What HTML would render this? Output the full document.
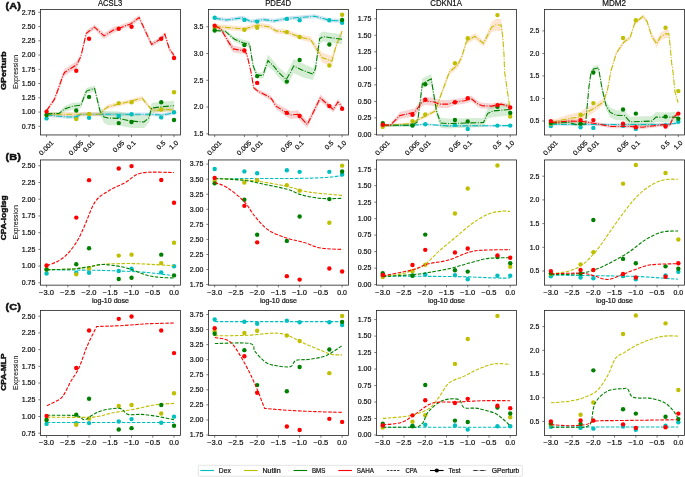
<!DOCTYPE html>
<html><head><meta charset="utf-8"><title>Figure</title>
<style>
html,body{margin:0;padding:0;background:#fff;}
body{width:685px;height:477px;overflow:hidden;}
svg{display:block;will-change:transform;font-family:"Liberation Sans",sans-serif;fill:#000;}
svg text{fill:#111;stroke:#111;stroke-width:0.2px;}
svg text[font-weight=bold]{stroke-width:0.45px;}
svg text.yl{stroke-width:0.08px;}
</style></head>
<body>
<svg width="685" height="477" viewBox="0 0 685 477">
<rect width="685" height="477" fill="#fff"/>
<g>
<clipPath id="cp00"><rect x="40.5" y="9.5" width="140" height="125.45"/></clipPath>
<g clip-path="url(#cp00)">
<polygon points="46.4,113.2 60,114.5 67.3,115.2 76.2,115.2 81,112.5 150,112.5 161.1,113.2 172.7,111.5 174.1,111.4 174.1,115 172.7,115.1 161.1,116.8 150,116.1 81,116.1 76.2,118.8 67.3,118.8 60,118.1 46.4,116.8" fill="#1f77b4" fill-opacity="0.2"/>
<polygon points="46.4,112.1 100,112.1 104.1,107.4 108,104.6 118.6,101.9 131.4,98.9 142.1,96 150.2,105.9 153,108 161.1,108 166.6,107.3 174.1,108 174.1,112.4 166.6,111.7 161.1,112.4 153,112.4 150.2,110.3 142.1,100.4 131.4,103.3 118.6,106.3 108,109 104.1,111.8 100,116.5 46.4,116.5" fill="#ff7f0e" fill-opacity="0.2"/>
<polygon points="46.4,112.4 59.1,111.9 64.6,105.9 72.7,102.7 80.9,102.2 86.4,88.1 94.6,85.4 100,107 104.1,111.1 108,111 118.6,111.4 131.4,114.1 144.1,116 148.9,112.7 151.6,103.1 161.1,101.8 174.1,100.7 174.1,110.7 161.1,111.8 151.6,113.1 148.9,122.7 144.1,128 131.4,128.1 118.6,125.4 108,125 104.1,123.1 100,115 94.6,91.4 86.4,94.1 80.9,108.2 72.7,109.7 64.6,111.9 59.1,114.9 46.4,115.4" fill="#2ca02c" fill-opacity="0.2"/>
<polygon points="46.4,108.9 54.4,96.9 57.7,87.5 62.5,73.3 64.5,69 76.8,61 80.9,53.4 86.3,30.7 94.5,24.6 104,32.9 114,26.8 118.6,25.9 124.3,23.6 130.5,21.6 139.1,15 151.6,42 161.1,36.2 164.9,31.7 169.3,46.4 174.1,53 174.1,58 169.3,51.4 164.9,36.7 161.1,41.2 151.6,47 139.1,20 130.5,26.6 124.3,28.6 118.6,30.9 114,32.8 104,38.9 94.5,29.6 86.3,35.7 80.9,59.4 76.8,68 64.5,76 62.5,80.3 57.7,93.5 54.4,101.9 46.4,112.9" fill="#d62728" fill-opacity="0.2"/>
<polyline points="46.4,115 60,116.3 67.3,117 76.2,117 81,114.3 150,114.3 161.1,115 172.7,113.3 174.1,113.2" fill="none" stroke="#00bfbf" stroke-width="1.1" stroke-dasharray="6 1.5 0.95 1.5"/>
<circle cx="46.57" cy="118.4" r="2.2" fill="#00bfbf"/>
<circle cx="76.27" cy="117.7" r="2.2" fill="#00bfbf"/>
<circle cx="89.06" cy="117.7" r="2.2" fill="#00bfbf"/>
<circle cx="118.75" cy="116.3" r="2.2" fill="#00bfbf"/>
<circle cx="131.54" cy="114.3" r="2.2" fill="#00bfbf"/>
<circle cx="161.24" cy="117.4" r="2.2" fill="#00bfbf"/>
<circle cx="174.03" cy="112.2" r="2.2" fill="#00bfbf"/>
<polyline points="46.4,114.3 100,114.3 104.1,109.6 108,106.8 118.6,104.1 131.4,101.1 142.1,98.2 150.2,108.1 153,110.2 161.1,110.2 166.6,109.5 174.1,110.2" fill="none" stroke="#bfbf00" stroke-width="1.1" stroke-dasharray="6 1.5 0.95 1.5"/>
<circle cx="46.57" cy="114.8" r="2.2" fill="#bfbf00"/>
<circle cx="76.27" cy="119.1" r="2.2" fill="#bfbf00"/>
<circle cx="89.06" cy="113.9" r="2.2" fill="#bfbf00"/>
<circle cx="118.75" cy="103.1" r="2.2" fill="#bfbf00"/>
<circle cx="131.54" cy="102.3" r="2.2" fill="#bfbf00"/>
<circle cx="161.24" cy="109.5" r="2.2" fill="#bfbf00"/>
<circle cx="174.03" cy="92.2" r="2.2" fill="#bfbf00"/>
<polyline points="46.4,113.9 59.1,113.4 64.6,108.9 72.7,106.2 80.9,105.2 86.4,91.1 94.6,88.4 100,111 104.1,117.1 108,118 118.6,118.4 131.4,121.1 144.1,122 148.9,117.7 151.6,108.1 161.1,106.8 174.1,105.7" fill="none" stroke="#008000" stroke-width="1.1" stroke-dasharray="6 1.5 0.95 1.5"/>
<circle cx="46.57" cy="115" r="2.2" fill="#008000"/>
<circle cx="76.27" cy="110.5" r="2.2" fill="#008000"/>
<circle cx="89.06" cy="96.9" r="2.2" fill="#008000"/>
<circle cx="118.75" cy="123.1" r="2.2" fill="#008000"/>
<circle cx="131.54" cy="122" r="2.2" fill="#008000"/>
<circle cx="161.24" cy="102.3" r="2.2" fill="#008000"/>
<circle cx="174.03" cy="120" r="2.2" fill="#008000"/>
<polyline points="46.4,110.9 54.4,99.4 57.7,90.5 62.5,76.8 64.5,72.5 76.8,64.5 80.9,56.4 86.3,33.2 94.5,27.1 104,35.9 114,29.8 118.6,28.4 124.3,26.1 130.5,24.1 139.1,17.5 151.6,44.5 161.1,38.7 164.9,34.2 169.3,48.9 174.1,55.5" fill="none" stroke="#ff0000" stroke-width="1.1" stroke-dasharray="6 1.5 0.95 1.5"/>
<circle cx="46.57" cy="111.6" r="2.2" fill="#ff0000"/>
<circle cx="76.27" cy="70.7" r="2.2" fill="#ff0000"/>
<circle cx="89.06" cy="38.8" r="2.2" fill="#ff0000"/>
<circle cx="118.75" cy="28.8" r="2.2" fill="#ff0000"/>
<circle cx="131.54" cy="26.8" r="2.2" fill="#ff0000"/>
<circle cx="161.24" cy="38.7" r="2.2" fill="#ff0000"/>
<circle cx="174.03" cy="58" r="2.2" fill="#ff0000"/>
</g>
<rect x="40.5" y="9.5" width="140" height="125.45" fill="none" stroke="#262626" stroke-width="0.82"/>
<line x1="38.3" y1="126.3" x2="40.5" y2="126.3" stroke="#333" stroke-width="0.65"/>
<text x="35.4" y="128.65" font-size="6.5" text-anchor="end" textLength="13.62" lengthAdjust="spacingAndGlyphs">0.75</text>
<line x1="38.3" y1="112.05" x2="40.5" y2="112.05" stroke="#333" stroke-width="0.65"/>
<text x="35.4" y="114.4" font-size="6.5" text-anchor="end" textLength="13.62" lengthAdjust="spacingAndGlyphs">1.00</text>
<line x1="38.3" y1="97.8" x2="40.5" y2="97.8" stroke="#333" stroke-width="0.65"/>
<text x="35.4" y="100.15" font-size="6.5" text-anchor="end" textLength="13.62" lengthAdjust="spacingAndGlyphs">1.25</text>
<line x1="38.3" y1="83.55" x2="40.5" y2="83.55" stroke="#333" stroke-width="0.65"/>
<text x="35.4" y="85.9" font-size="6.5" text-anchor="end" textLength="13.62" lengthAdjust="spacingAndGlyphs">1.50</text>
<line x1="38.3" y1="69.3" x2="40.5" y2="69.3" stroke="#333" stroke-width="0.65"/>
<text x="35.4" y="71.65" font-size="6.5" text-anchor="end" textLength="13.62" lengthAdjust="spacingAndGlyphs">1.75</text>
<line x1="38.3" y1="55.05" x2="40.5" y2="55.05" stroke="#333" stroke-width="0.65"/>
<text x="35.4" y="57.4" font-size="6.5" text-anchor="end" textLength="13.62" lengthAdjust="spacingAndGlyphs">2.00</text>
<line x1="38.3" y1="40.8" x2="40.5" y2="40.8" stroke="#333" stroke-width="0.65"/>
<text x="35.4" y="43.15" font-size="6.5" text-anchor="end" textLength="13.62" lengthAdjust="spacingAndGlyphs">2.25</text>
<line x1="38.3" y1="26.55" x2="40.5" y2="26.55" stroke="#333" stroke-width="0.65"/>
<text x="35.4" y="28.9" font-size="6.5" text-anchor="end" textLength="13.62" lengthAdjust="spacingAndGlyphs">2.50</text>
<line x1="38.3" y1="12.3" x2="40.5" y2="12.3" stroke="#333" stroke-width="0.65"/>
<text x="35.4" y="14.65" font-size="6.5" text-anchor="end" textLength="13.62" lengthAdjust="spacingAndGlyphs">2.75</text>
<line x1="46.57" y1="134.95" x2="46.57" y2="137.15" stroke="#333" stroke-width="0.65"/>
<text x="46.17" y="150.12" font-size="6.5" text-anchor="middle" textLength="17.59" lengthAdjust="spacingAndGlyphs" transform="rotate(-45 46.17 147.82)">0.001</text>
<line x1="76.27" y1="134.95" x2="76.27" y2="137.15" stroke="#333" stroke-width="0.65"/>
<text x="75.87" y="150.12" font-size="6.5" text-anchor="middle" textLength="17.59" lengthAdjust="spacingAndGlyphs" transform="rotate(-45 75.87 147.82)">0.005</text>
<line x1="89.06" y1="134.95" x2="89.06" y2="137.15" stroke="#333" stroke-width="0.65"/>
<text x="88.66" y="148.71" font-size="6.5" text-anchor="middle" textLength="13.62" lengthAdjust="spacingAndGlyphs" transform="rotate(-45 88.66 146.41)">0.01</text>
<line x1="118.75" y1="134.95" x2="118.75" y2="137.15" stroke="#333" stroke-width="0.65"/>
<text x="118.35" y="148.71" font-size="6.5" text-anchor="middle" textLength="13.62" lengthAdjust="spacingAndGlyphs" transform="rotate(-45 118.35 146.41)">0.05</text>
<line x1="131.54" y1="134.95" x2="131.54" y2="137.15" stroke="#333" stroke-width="0.65"/>
<text x="131.14" y="147.3" font-size="6.5" text-anchor="middle" textLength="9.64" lengthAdjust="spacingAndGlyphs" transform="rotate(-45 131.14 145)">0.1</text>
<line x1="161.24" y1="134.95" x2="161.24" y2="137.15" stroke="#333" stroke-width="0.65"/>
<text x="160.84" y="147.3" font-size="6.5" text-anchor="middle" textLength="9.64" lengthAdjust="spacingAndGlyphs" transform="rotate(-45 160.84 145)">0.5</text>
<line x1="174.03" y1="134.95" x2="174.03" y2="137.15" stroke="#333" stroke-width="0.65"/>
<text x="173.63" y="147.3" font-size="6.5" text-anchor="middle" textLength="9.64" lengthAdjust="spacingAndGlyphs" transform="rotate(-45 173.63 145)">1.0</text>
<text x="110.1" y="6.1" font-size="8.5" text-anchor="middle" textLength="24.15" lengthAdjust="spacingAndGlyphs">ACSL3</text>
</g>
<g>
<clipPath id="cp01"><rect x="208.5" y="9.5" width="140" height="125.45"/></clipPath>
<g clip-path="url(#cp01)">
<polygon points="214.9,16.2 226.4,18 242.8,15.8 251,19.6 263.2,17.6 274.1,18.9 286.8,16.6 299.6,15.5 314.8,14.2 329.3,18.3 342.1,18.9 342.1,22.9 329.3,22.3 314.8,18.2 299.6,19.5 286.8,20.6 274.1,22.9 263.2,21.6 251,23.6 242.8,19.8 226.4,22 214.9,20.2" fill="#1f77b4" fill-opacity="0.2"/>
<polygon points="214.9,23.9 244.6,26.6 257.8,22.5 270,24.6 276,28.4 286.8,29.6 299.6,34.5 310.7,36.6 316.9,45.6 322.3,52.7 331.9,56.1 336,43.1 342.1,28.7 342.1,33.7 336,49.1 331.9,66.1 322.3,62.7 316.9,53.6 310.7,42.6 299.6,39.5 286.8,34.6 276,33.4 270,29.6 257.8,27.5 244.6,31.6 214.9,28.9" fill="#ff7f0e" fill-opacity="0.2"/>
<polygon points="214.9,29 225.1,29.7 234.6,36.8 242.8,39.7 249.6,41.1 253,62.2 255,67.7 257.1,72.4 263.2,72.4 264.6,66 268,54.5 274.1,61.6 278.2,67 286.2,73.5 291,64.4 293.7,58.9 301.9,63 312.8,68.1 315.5,63.6 319.6,33.7 323,31.6 330.5,32.7 342.1,34.3 342.1,44.3 330.5,42.7 323,41.6 319.6,43.7 315.5,73.6 312.8,80.1 301.9,77 293.7,72.9 291,78.4 286.2,85.5 278.2,77 274.1,71.6 268,66.5 264.6,74 263.2,78.4 257.1,78.4 255,73.7 253,68.2 249.6,47.1 242.8,45.7 234.6,41.8 225.1,32.7 214.9,32" fill="#2ca02c" fill-opacity="0.2"/>
<polygon points="214.9,24.2 221,27.1 228.5,38.6 233.2,45.4 244.6,47.9 246.9,51.8 251,70 253.7,85.7 257.8,89.1 266,92.7 271.4,96.1 276,103.1 286.8,108.9 291,111 297.8,110.3 307.3,121 320.3,94.4 329.3,103.1 333.2,106.5 338,99 342.1,104 342.1,110 338,105 333.2,112.5 329.3,109.1 320.3,101.4 307.3,128 297.8,118.3 291,119 286.8,116.9 276,109.1 271.4,101.1 266,97.7 257.8,93.1 253.7,89.7 251,74 246.9,56.8 244.6,53.9 233.2,52.4 228.5,45.6 221,31.1 214.9,27.2" fill="#d62728" fill-opacity="0.2"/>
<polyline points="214.9,18.2 226.4,20 242.8,17.8 251,21.6 263.2,19.6 274.1,20.9 286.8,18.6 299.6,17.5 314.8,16.2 329.3,20.3 342.1,20.9" fill="none" stroke="#00bfbf" stroke-width="1.1" stroke-dasharray="6 1.5 0.95 1.5"/>
<circle cx="214.67" cy="17.8" r="2.2" fill="#00bfbf"/>
<circle cx="244.37" cy="19.9" r="2.2" fill="#00bfbf"/>
<circle cx="257.16" cy="21.6" r="2.2" fill="#00bfbf"/>
<circle cx="286.85" cy="18.9" r="2.2" fill="#00bfbf"/>
<circle cx="299.64" cy="20.3" r="2.2" fill="#00bfbf"/>
<circle cx="329.34" cy="20.3" r="2.2" fill="#00bfbf"/>
<circle cx="342.13" cy="22.7" r="2.2" fill="#00bfbf"/>
<polyline points="214.9,26.4 244.6,29.1 257.8,25 270,27.1 276,30.9 286.8,32.1 299.6,37 310.7,39.6 316.9,49.6 322.3,57.7 331.9,61.1 336,46.1 342.1,31.2" fill="none" stroke="#bfbf00" stroke-width="1.1" stroke-dasharray="6 1.5 0.95 1.5"/>
<circle cx="214.67" cy="28.4" r="2.2" fill="#bfbf00"/>
<circle cx="244.37" cy="29.8" r="2.2" fill="#bfbf00"/>
<circle cx="257.16" cy="27.8" r="2.2" fill="#bfbf00"/>
<circle cx="286.85" cy="32.1" r="2.2" fill="#bfbf00"/>
<circle cx="299.64" cy="37" r="2.2" fill="#bfbf00"/>
<circle cx="329.34" cy="65.5" r="2.2" fill="#bfbf00"/>
<circle cx="342.13" cy="14.8" r="2.2" fill="#bfbf00"/>
<polyline points="214.9,30.5 225.1,31.2 234.6,39.3 242.8,42.7 249.6,44.1 253,65.2 255,70.7 257.1,75.4 263.2,75.4 264.6,70 268,60.5 274.1,66.6 278.2,72 286.2,79.5 291,71.4 293.7,65.9 301.9,70 312.8,74.1 315.5,68.6 319.6,38.7 323,36.6 330.5,37.7 342.1,39.3" fill="none" stroke="#008000" stroke-width="1.1" stroke-dasharray="6 1.5 0.95 1.5"/>
<circle cx="214.67" cy="30.5" r="2.2" fill="#008000"/>
<circle cx="244.37" cy="45.1" r="2.2" fill="#008000"/>
<circle cx="257.16" cy="76.1" r="2.2" fill="#008000"/>
<circle cx="286.85" cy="81.6" r="2.2" fill="#008000"/>
<circle cx="299.64" cy="60" r="2.2" fill="#008000"/>
<circle cx="329.34" cy="44.5" r="2.2" fill="#008000"/>
<circle cx="342.13" cy="20" r="2.2" fill="#008000"/>
<polyline points="214.9,25.7 221,29.1 228.5,42.1 233.2,48.9 244.6,50.9 246.9,54.3 251,72 253.7,87.7 257.8,91.1 266,95.2 271.4,98.6 276,106.1 286.8,112.9 291,115 297.8,114.3 307.3,124.5 320.3,97.9 329.3,106.1 333.2,109.5 338,102 342.1,107" fill="none" stroke="#ff0000" stroke-width="1.1" stroke-dasharray="6 1.5 0.95 1.5"/>
<circle cx="214.67" cy="25.7" r="2.2" fill="#ff0000"/>
<circle cx="244.37" cy="50.5" r="2.2" fill="#ff0000"/>
<circle cx="257.16" cy="82.9" r="2.2" fill="#ff0000"/>
<circle cx="286.85" cy="112.9" r="2.2" fill="#ff0000"/>
<circle cx="299.64" cy="116" r="2.2" fill="#ff0000"/>
<circle cx="329.34" cy="106.1" r="2.2" fill="#ff0000"/>
<circle cx="342.13" cy="108.8" r="2.2" fill="#ff0000"/>
</g>
<rect x="208.5" y="9.5" width="140" height="125.45" fill="none" stroke="#262626" stroke-width="0.82"/>
<line x1="206.3" y1="133.8" x2="208.5" y2="133.8" stroke="#333" stroke-width="0.65"/>
<text x="203.4" y="136.15" font-size="6.5" text-anchor="end" textLength="9.64" lengthAdjust="spacingAndGlyphs">1.5</text>
<line x1="206.3" y1="107.05" x2="208.5" y2="107.05" stroke="#333" stroke-width="0.65"/>
<text x="203.4" y="109.4" font-size="6.5" text-anchor="end" textLength="9.64" lengthAdjust="spacingAndGlyphs">2.0</text>
<line x1="206.3" y1="80.3" x2="208.5" y2="80.3" stroke="#333" stroke-width="0.65"/>
<text x="203.4" y="82.65" font-size="6.5" text-anchor="end" textLength="9.64" lengthAdjust="spacingAndGlyphs">2.5</text>
<line x1="206.3" y1="53.55" x2="208.5" y2="53.55" stroke="#333" stroke-width="0.65"/>
<text x="203.4" y="55.9" font-size="6.5" text-anchor="end" textLength="9.64" lengthAdjust="spacingAndGlyphs">3.0</text>
<line x1="206.3" y1="26.8" x2="208.5" y2="26.8" stroke="#333" stroke-width="0.65"/>
<text x="203.4" y="29.15" font-size="6.5" text-anchor="end" textLength="9.64" lengthAdjust="spacingAndGlyphs">3.5</text>
<line x1="214.67" y1="134.95" x2="214.67" y2="137.15" stroke="#333" stroke-width="0.65"/>
<text x="214.27" y="150.12" font-size="6.5" text-anchor="middle" textLength="17.59" lengthAdjust="spacingAndGlyphs" transform="rotate(-45 214.27 147.82)">0.001</text>
<line x1="244.37" y1="134.95" x2="244.37" y2="137.15" stroke="#333" stroke-width="0.65"/>
<text x="243.97" y="150.12" font-size="6.5" text-anchor="middle" textLength="17.59" lengthAdjust="spacingAndGlyphs" transform="rotate(-45 243.97 147.82)">0.005</text>
<line x1="257.16" y1="134.95" x2="257.16" y2="137.15" stroke="#333" stroke-width="0.65"/>
<text x="256.76" y="148.71" font-size="6.5" text-anchor="middle" textLength="13.62" lengthAdjust="spacingAndGlyphs" transform="rotate(-45 256.76 146.41)">0.01</text>
<line x1="286.85" y1="134.95" x2="286.85" y2="137.15" stroke="#333" stroke-width="0.65"/>
<text x="286.45" y="148.71" font-size="6.5" text-anchor="middle" textLength="13.62" lengthAdjust="spacingAndGlyphs" transform="rotate(-45 286.45 146.41)">0.05</text>
<line x1="299.64" y1="134.95" x2="299.64" y2="137.15" stroke="#333" stroke-width="0.65"/>
<text x="299.24" y="147.3" font-size="6.5" text-anchor="middle" textLength="9.64" lengthAdjust="spacingAndGlyphs" transform="rotate(-45 299.24 145)">0.1</text>
<line x1="329.34" y1="134.95" x2="329.34" y2="137.15" stroke="#333" stroke-width="0.65"/>
<text x="328.94" y="147.3" font-size="6.5" text-anchor="middle" textLength="9.64" lengthAdjust="spacingAndGlyphs" transform="rotate(-45 328.94 145)">0.5</text>
<line x1="342.13" y1="134.95" x2="342.13" y2="137.15" stroke="#333" stroke-width="0.65"/>
<text x="341.73" y="147.3" font-size="6.5" text-anchor="middle" textLength="9.64" lengthAdjust="spacingAndGlyphs" transform="rotate(-45 341.73 145)">1.0</text>
<text x="278.1" y="6.1" font-size="8.5" text-anchor="middle" textLength="25.78" lengthAdjust="spacingAndGlyphs">PDE4D</text>
</g>
<g>
<clipPath id="cp02"><rect x="376.5" y="9.5" width="140" height="125.45"/></clipPath>
<g clip-path="url(#cp02)">
<polygon points="382.9,124.6 412.6,124.2 425.1,123.2 448,124.9 510.1,124.6 510.1,126.6 448,126.9 425.1,125.2 412.6,126.2 382.9,126.6" fill="#1f77b4" fill-opacity="0.2"/>
<polygon points="382.9,124.9 412.6,121.9 417.6,118.2 425.1,114.3 435.3,108.9 440.1,94.7 449.4,69 457.6,62.2 461.7,54 466.5,38.4 474.7,33.3 483.5,40.4 491.7,22.1 495.8,19 501.2,19 502.6,30.2 504,52.3 504.6,70.5 510.1,108 510.1,111 504.6,73.5 504,56.3 502.6,40.2 501.2,31 495.8,31 491.7,32.1 483.5,46.4 474.7,39.3 466.5,44.4 461.7,60 457.6,68.2 449.4,75 440.1,99.7 435.3,112.9 425.1,118.3 417.6,121.2 412.6,124.9 382.9,126.9" fill="#ff7f0e" fill-opacity="0.2"/>
<polygon points="382.9,123.7 412.6,123.7 417.6,119.3 422.4,78.6 431.2,73.9 436.7,108.2 440.8,118.1 448,118.6 483.5,118 487.6,108.6 493,104.9 510.1,103.5 510.1,115.5 493,116.9 487.6,118.6 483.5,127 448,128.6 440.8,128.1 436.7,116.2 431.2,83.9 422.4,88.6 417.6,124.3 412.6,126.7 382.9,126.7" fill="#2ca02c" fill-opacity="0.2"/>
<polygon points="382.9,123.8 390.3,123.7 399.9,112.1 414.9,108.2 421,99.4 425.1,96.7 433.9,98 439.4,100.1 448,100.1 454.9,99 464.4,97.7 471.2,95.6 478.1,101.1 482.1,102.7 491.7,103.6 501.2,102.1 510.1,104.5 510.1,108.5 501.2,106.1 491.7,108.6 482.1,108.7 478.1,107.1 471.2,101.6 464.4,103.7 454.9,105 448,108.1 439.4,108.1 433.9,106 425.1,104.7 421,107.4 414.9,116.2 399.9,119.1 390.3,126.7 382.9,125.8" fill="#d62728" fill-opacity="0.2"/>
<polyline points="382.9,125.6 412.6,125.2 425.1,124.2 448,125.9 510.1,125.6" fill="none" stroke="#00bfbf" stroke-width="1.1" stroke-dasharray="6 1.5 0.95 1.5"/>
<circle cx="382.77" cy="125.2" r="2.2" fill="#00bfbf"/>
<circle cx="412.47" cy="125.2" r="2.2" fill="#00bfbf"/>
<circle cx="425.26" cy="124.2" r="2.2" fill="#00bfbf"/>
<circle cx="454.95" cy="124.9" r="2.2" fill="#00bfbf"/>
<circle cx="467.74" cy="129" r="2.2" fill="#00bfbf"/>
<circle cx="497.44" cy="125.6" r="2.2" fill="#00bfbf"/>
<circle cx="510.23" cy="125.6" r="2.2" fill="#00bfbf"/>
<polyline points="382.9,125.9 412.6,123.4 417.6,119.7 425.1,116.3 435.3,110.9 440.1,97.2 449.4,72 457.6,65.2 461.7,57 466.5,41.4 474.7,36.3 483.5,43.4 491.7,27.1 495.8,25 501.2,25 502.6,35.2 504,54.3 504.6,72 510.1,109.5" fill="none" stroke="#bfbf00" stroke-width="1.1" stroke-dasharray="6 1.5 0.95 1.5"/>
<circle cx="382.77" cy="126.9" r="2.2" fill="#bfbf00"/>
<circle cx="412.47" cy="121.1" r="2.2" fill="#bfbf00"/>
<circle cx="425.26" cy="114.5" r="2.2" fill="#bfbf00"/>
<circle cx="454.95" cy="63.2" r="2.2" fill="#bfbf00"/>
<circle cx="467.74" cy="38.2" r="2.2" fill="#bfbf00"/>
<circle cx="497.44" cy="15.1" r="2.2" fill="#bfbf00"/>
<circle cx="510.23" cy="116.6" r="2.2" fill="#bfbf00"/>
<polyline points="382.9,125.2 412.6,125.2 417.6,121.8 422.4,83.6 431.2,78.9 436.7,112.2 440.8,123.1 448,123.6 483.5,122.5 487.6,113.6 493,110.9 510.1,109.5" fill="none" stroke="#008000" stroke-width="1.1" stroke-dasharray="6 1.5 0.95 1.5"/>
<circle cx="382.77" cy="123.1" r="2.2" fill="#008000"/>
<circle cx="412.47" cy="125.6" r="2.2" fill="#008000"/>
<circle cx="425.26" cy="84.3" r="2.2" fill="#008000"/>
<circle cx="454.95" cy="120" r="2.2" fill="#008000"/>
<circle cx="467.74" cy="121.4" r="2.2" fill="#008000"/>
<circle cx="497.44" cy="106.8" r="2.2" fill="#008000"/>
<circle cx="510.23" cy="112.9" r="2.2" fill="#008000"/>
<polyline points="382.9,124.8 390.3,125.2 399.9,115.6 414.9,112.2 421,103.4 425.1,100.7 433.9,102 439.4,104.1 448,104.1 454.9,102 464.4,100.7 471.2,98.6 478.1,104.1 482.1,105.7 491.7,106.1 501.2,104.1 510.1,106.5" fill="none" stroke="#ff0000" stroke-width="1.1" stroke-dasharray="6 1.5 0.95 1.5"/>
<circle cx="382.77" cy="124.8" r="2.2" fill="#ff0000"/>
<circle cx="412.47" cy="114.7" r="2.2" fill="#ff0000"/>
<circle cx="425.26" cy="99.6" r="2.2" fill="#ff0000"/>
<circle cx="454.95" cy="102.3" r="2.2" fill="#ff0000"/>
<circle cx="467.74" cy="98.2" r="2.2" fill="#ff0000"/>
<circle cx="497.44" cy="105.1" r="2.2" fill="#ff0000"/>
<circle cx="510.23" cy="107.5" r="2.2" fill="#ff0000"/>
</g>
<rect x="376.5" y="9.5" width="140" height="125.45" fill="none" stroke="#262626" stroke-width="0.82"/>
<line x1="374.3" y1="134.41" x2="376.5" y2="134.41" stroke="#333" stroke-width="0.65"/>
<text x="371.4" y="136.75" font-size="6.5" text-anchor="end" textLength="13.62" lengthAdjust="spacingAndGlyphs">0.00</text>
<line x1="374.3" y1="117.89" x2="376.5" y2="117.89" stroke="#333" stroke-width="0.65"/>
<text x="371.4" y="120.24" font-size="6.5" text-anchor="end" textLength="13.62" lengthAdjust="spacingAndGlyphs">0.25</text>
<line x1="374.3" y1="101.38" x2="376.5" y2="101.38" stroke="#333" stroke-width="0.65"/>
<text x="371.4" y="103.72" font-size="6.5" text-anchor="end" textLength="13.62" lengthAdjust="spacingAndGlyphs">0.50</text>
<line x1="374.3" y1="84.86" x2="376.5" y2="84.86" stroke="#333" stroke-width="0.65"/>
<text x="371.4" y="87.21" font-size="6.5" text-anchor="end" textLength="13.62" lengthAdjust="spacingAndGlyphs">0.75</text>
<line x1="374.3" y1="68.34" x2="376.5" y2="68.34" stroke="#333" stroke-width="0.65"/>
<text x="371.4" y="70.69" font-size="6.5" text-anchor="end" textLength="13.62" lengthAdjust="spacingAndGlyphs">1.00</text>
<line x1="374.3" y1="51.83" x2="376.5" y2="51.83" stroke="#333" stroke-width="0.65"/>
<text x="371.4" y="54.18" font-size="6.5" text-anchor="end" textLength="13.62" lengthAdjust="spacingAndGlyphs">1.25</text>
<line x1="374.3" y1="35.31" x2="376.5" y2="35.31" stroke="#333" stroke-width="0.65"/>
<text x="371.4" y="37.66" font-size="6.5" text-anchor="end" textLength="13.62" lengthAdjust="spacingAndGlyphs">1.50</text>
<line x1="374.3" y1="18.8" x2="376.5" y2="18.8" stroke="#333" stroke-width="0.65"/>
<text x="371.4" y="21.15" font-size="6.5" text-anchor="end" textLength="13.62" lengthAdjust="spacingAndGlyphs">1.75</text>
<line x1="382.77" y1="134.95" x2="382.77" y2="137.15" stroke="#333" stroke-width="0.65"/>
<text x="382.37" y="150.12" font-size="6.5" text-anchor="middle" textLength="17.59" lengthAdjust="spacingAndGlyphs" transform="rotate(-45 382.37 147.82)">0.001</text>
<line x1="412.47" y1="134.95" x2="412.47" y2="137.15" stroke="#333" stroke-width="0.65"/>
<text x="412.07" y="150.12" font-size="6.5" text-anchor="middle" textLength="17.59" lengthAdjust="spacingAndGlyphs" transform="rotate(-45 412.07 147.82)">0.005</text>
<line x1="425.26" y1="134.95" x2="425.26" y2="137.15" stroke="#333" stroke-width="0.65"/>
<text x="424.86" y="148.71" font-size="6.5" text-anchor="middle" textLength="13.62" lengthAdjust="spacingAndGlyphs" transform="rotate(-45 424.86 146.41)">0.01</text>
<line x1="454.95" y1="134.95" x2="454.95" y2="137.15" stroke="#333" stroke-width="0.65"/>
<text x="454.55" y="148.71" font-size="6.5" text-anchor="middle" textLength="13.62" lengthAdjust="spacingAndGlyphs" transform="rotate(-45 454.55 146.41)">0.05</text>
<line x1="467.74" y1="134.95" x2="467.74" y2="137.15" stroke="#333" stroke-width="0.65"/>
<text x="467.34" y="147.3" font-size="6.5" text-anchor="middle" textLength="9.64" lengthAdjust="spacingAndGlyphs" transform="rotate(-45 467.34 145)">0.1</text>
<line x1="497.44" y1="134.95" x2="497.44" y2="137.15" stroke="#333" stroke-width="0.65"/>
<text x="497.04" y="147.3" font-size="6.5" text-anchor="middle" textLength="9.64" lengthAdjust="spacingAndGlyphs" transform="rotate(-45 497.04 145)">0.5</text>
<line x1="510.23" y1="134.95" x2="510.23" y2="137.15" stroke="#333" stroke-width="0.65"/>
<text x="509.83" y="147.3" font-size="6.5" text-anchor="middle" textLength="9.64" lengthAdjust="spacingAndGlyphs" transform="rotate(-45 509.83 145)">1.0</text>
<text x="446.1" y="6.1" font-size="8.5" text-anchor="middle" textLength="31.64" lengthAdjust="spacingAndGlyphs">CDKN1A</text>
</g>
<g>
<clipPath id="cp03"><rect x="544.5" y="9.5" width="140" height="125.45"/></clipPath>
<g clip-path="url(#cp03)">
<polygon points="551,123.2 616,123.2 665.5,123.2 678.1,121.8 678.1,124.4 665.5,125.8 616,125.8 551,125.8" fill="#1f77b4" fill-opacity="0.2"/>
<polygon points="551,120.5 569.2,114.4 580.6,112 587,107.2 593.4,104.8 603.3,99 607.4,88.4 611,68.7 616.4,51 623.9,40.1 630.1,35.7 634.8,21 643,14.4 647.1,19.6 651.9,33.6 656.6,39.7 660.7,32.6 665.5,29.9 668.9,29.9 669.9,41.4 671.6,61 673,70.5 675,90.3 678.1,101.2 678.1,104.2 675,93.3 673,73.5 671.6,64 669.9,45.4 668.9,37.9 665.5,37.9 660.7,40.6 656.6,47.7 651.9,39.6 647.1,23.6 643,18.4 634.8,25 630.1,39.7 623.9,44.1 616.4,55 611,72.7 607.4,92.4 603.3,105 593.4,112.8 587,117.2 580.6,122 569.2,122.4 551,124.5" fill="#ff7f0e" fill-opacity="0.2"/>
<polygon points="551,121.1 569.2,120.5 576.1,122.5 585.6,121.8 589,84.3 591,69.7 593.5,66 598.5,65 601.9,84.7 606,101.4 610.1,107.2 616,110.3 624.6,110.6 630.1,116.8 651.9,116.1 656,112 665.5,112.4 673.7,112 678.1,112.7 678.1,122.7 673.7,122 665.5,122.4 656,122 651.9,126.1 630.1,126.8 624.6,120.6 616,120.3 610.1,117.2 606,109.4 601.9,90.7 598.5,71 593.5,72 591,75.7 589,88.3 585.6,125.8 576.1,126.5 569.2,124.5 551,125.1" fill="#2ca02c" fill-opacity="0.2"/>
<polygon points="551,120.7 569.2,119.3 582.9,119.7 596.5,122 611,124.7 630.1,124.7 642.3,125.4 665.5,122.7 669.6,123.4 673.7,115.2 678.1,111.8 678.1,115.4 673.7,118.8 669.6,127 665.5,126.3 642.3,129 630.1,128.3 611,128.3 596.5,125.6 582.9,123.3 569.2,122.9 551,124.3" fill="#d62728" fill-opacity="0.2"/>
<polyline points="551,124.5 616,124.5 665.5,124.5 678.1,123.1" fill="none" stroke="#00bfbf" stroke-width="1.1" stroke-dasharray="6 1.5 0.95 1.5"/>
<circle cx="550.87" cy="126.1" r="2.2" fill="#00bfbf"/>
<circle cx="580.57" cy="127.2" r="2.2" fill="#00bfbf"/>
<circle cx="593.36" cy="127.9" r="2.2" fill="#00bfbf"/>
<circle cx="623.05" cy="125.9" r="2.2" fill="#00bfbf"/>
<circle cx="635.84" cy="128.9" r="2.2" fill="#00bfbf"/>
<circle cx="665.54" cy="125.2" r="2.2" fill="#00bfbf"/>
<circle cx="678.33" cy="121.8" r="2.2" fill="#00bfbf"/>
<polyline points="551,122.5 569.2,118.4 580.6,117 587,112.2 593.4,108.8 603.3,102 607.4,90.4 611,70.7 616.4,53 623.9,42.1 630.1,37.7 634.8,23 643,16.4 647.1,21.6 651.9,36.6 656.6,43.7 660.7,36.6 665.5,33.9 668.9,33.9 669.9,43.4 671.6,62.5 673,72 675,91.8 678.1,102.7" fill="none" stroke="#bfbf00" stroke-width="1.1" stroke-dasharray="6 1.5 0.95 1.5"/>
<circle cx="550.87" cy="123.8" r="2.2" fill="#bfbf00"/>
<circle cx="580.57" cy="114.7" r="2.2" fill="#bfbf00"/>
<circle cx="593.36" cy="103.1" r="2.2" fill="#bfbf00"/>
<circle cx="623.05" cy="38" r="2.2" fill="#bfbf00"/>
<circle cx="635.84" cy="20.3" r="2.2" fill="#bfbf00"/>
<circle cx="665.54" cy="27.8" r="2.2" fill="#bfbf00"/>
<circle cx="678.33" cy="91.1" r="2.2" fill="#bfbf00"/>
<polyline points="551,123.1 569.2,122.5 576.1,124.5 585.6,123.8 589,86.3 591,72.7 593.5,69 598.5,68 601.9,87.7 606,105.4 610.1,112.2 616,115.3 624.6,115.6 630.1,121.8 651.9,121.1 656,117 665.5,117.4 673.7,117 678.1,117.7" fill="none" stroke="#008000" stroke-width="1.1" stroke-dasharray="6 1.5 0.95 1.5"/>
<circle cx="550.87" cy="123.1" r="2.2" fill="#008000"/>
<circle cx="580.57" cy="123.5" r="2.2" fill="#008000"/>
<circle cx="593.36" cy="72.5" r="2.2" fill="#008000"/>
<circle cx="623.05" cy="109.5" r="2.2" fill="#008000"/>
<circle cx="635.84" cy="113.6" r="2.2" fill="#008000"/>
<circle cx="665.54" cy="116.6" r="2.2" fill="#008000"/>
<circle cx="678.33" cy="118.8" r="2.2" fill="#008000"/>
<polyline points="551,122.5 569.2,121.1 582.9,121.5 596.5,123.8 611,126.5 630.1,126.5 642.3,127.2 665.5,124.5 669.6,125.2 673.7,117 678.1,113.6" fill="none" stroke="#ff0000" stroke-width="1.1" stroke-dasharray="6 1.5 0.95 1.5"/>
<circle cx="550.87" cy="121.1" r="2.2" fill="#ff0000"/>
<circle cx="580.57" cy="120.1" r="2.2" fill="#ff0000"/>
<circle cx="593.36" cy="120.1" r="2.2" fill="#ff0000"/>
<circle cx="623.05" cy="123.8" r="2.2" fill="#ff0000"/>
<circle cx="635.84" cy="127.2" r="2.2" fill="#ff0000"/>
<circle cx="665.54" cy="126.5" r="2.2" fill="#ff0000"/>
<circle cx="678.33" cy="113.6" r="2.2" fill="#ff0000"/>
</g>
<rect x="544.5" y="9.5" width="140" height="125.45" fill="none" stroke="#262626" stroke-width="0.82"/>
<line x1="542.3" y1="121" x2="544.5" y2="121" stroke="#333" stroke-width="0.65"/>
<text x="539.4" y="123.35" font-size="6.5" text-anchor="end" textLength="9.64" lengthAdjust="spacingAndGlyphs">0.5</text>
<line x1="542.3" y1="98.47" x2="544.5" y2="98.47" stroke="#333" stroke-width="0.65"/>
<text x="539.4" y="100.82" font-size="6.5" text-anchor="end" textLength="9.64" lengthAdjust="spacingAndGlyphs">1.0</text>
<line x1="542.3" y1="75.95" x2="544.5" y2="75.95" stroke="#333" stroke-width="0.65"/>
<text x="539.4" y="78.3" font-size="6.5" text-anchor="end" textLength="9.64" lengthAdjust="spacingAndGlyphs">1.5</text>
<line x1="542.3" y1="53.42" x2="544.5" y2="53.42" stroke="#333" stroke-width="0.65"/>
<text x="539.4" y="55.77" font-size="6.5" text-anchor="end" textLength="9.64" lengthAdjust="spacingAndGlyphs">2.0</text>
<line x1="542.3" y1="30.9" x2="544.5" y2="30.9" stroke="#333" stroke-width="0.65"/>
<text x="539.4" y="33.25" font-size="6.5" text-anchor="end" textLength="9.64" lengthAdjust="spacingAndGlyphs">2.5</text>
<line x1="550.87" y1="134.95" x2="550.87" y2="137.15" stroke="#333" stroke-width="0.65"/>
<text x="550.47" y="150.12" font-size="6.5" text-anchor="middle" textLength="17.59" lengthAdjust="spacingAndGlyphs" transform="rotate(-45 550.47 147.82)">0.001</text>
<line x1="580.57" y1="134.95" x2="580.57" y2="137.15" stroke="#333" stroke-width="0.65"/>
<text x="580.17" y="150.12" font-size="6.5" text-anchor="middle" textLength="17.59" lengthAdjust="spacingAndGlyphs" transform="rotate(-45 580.17 147.82)">0.005</text>
<line x1="593.36" y1="134.95" x2="593.36" y2="137.15" stroke="#333" stroke-width="0.65"/>
<text x="592.96" y="148.71" font-size="6.5" text-anchor="middle" textLength="13.62" lengthAdjust="spacingAndGlyphs" transform="rotate(-45 592.96 146.41)">0.01</text>
<line x1="623.05" y1="134.95" x2="623.05" y2="137.15" stroke="#333" stroke-width="0.65"/>
<text x="622.65" y="148.71" font-size="6.5" text-anchor="middle" textLength="13.62" lengthAdjust="spacingAndGlyphs" transform="rotate(-45 622.65 146.41)">0.05</text>
<line x1="635.84" y1="134.95" x2="635.84" y2="137.15" stroke="#333" stroke-width="0.65"/>
<text x="635.44" y="147.3" font-size="6.5" text-anchor="middle" textLength="9.64" lengthAdjust="spacingAndGlyphs" transform="rotate(-45 635.44 145)">0.1</text>
<line x1="665.54" y1="134.95" x2="665.54" y2="137.15" stroke="#333" stroke-width="0.65"/>
<text x="665.14" y="147.3" font-size="6.5" text-anchor="middle" textLength="9.64" lengthAdjust="spacingAndGlyphs" transform="rotate(-45 665.14 145)">0.5</text>
<line x1="678.33" y1="134.95" x2="678.33" y2="137.15" stroke="#333" stroke-width="0.65"/>
<text x="677.93" y="147.3" font-size="6.5" text-anchor="middle" textLength="9.64" lengthAdjust="spacingAndGlyphs" transform="rotate(-45 677.93 145)">1.0</text>
<text x="614.1" y="6.1" font-size="8.5" text-anchor="middle" textLength="23.69" lengthAdjust="spacingAndGlyphs">MDM2</text>
</g>
<text x="5.6" y="9.35" font-size="9.2" font-weight="bold" textLength="15.2" lengthAdjust="spacingAndGlyphs">(A)</text>
<text x="5.8" y="89.9" font-size="7.8" font-weight="bold" textLength="38.73" lengthAdjust="spacingAndGlyphs" transform="rotate(-90 5.8 89.9)">GPerturb</text>
<text class="yl" x="17.6" y="89" font-size="6.5" textLength="34.23" lengthAdjust="spacingAndGlyphs" transform="rotate(-90 17.6 89)">Expression</text>
<g>
<clipPath id="cp10"><rect x="40.5" y="159.95" width="140" height="125.2"/></clipPath>
<g clip-path="url(#cp10)">
<path d="M46.9,269.7 C53.95,269.78 78.02,270.02 89.2,270.2 C100.38,270.38 104.35,270.42 114,270.8 C123.65,271.18 137.08,271.67 147.1,272.5 C157.12,273.33 169.6,275.25 174.1,275.8" fill="none" stroke="#00bfbf" stroke-width="1.1" stroke-dasharray="3.5 1.5"/>
<circle cx="46.57" cy="273.52" r="2.2" fill="#00bfbf"/>
<circle cx="76.27" cy="272.7" r="2.2" fill="#00bfbf"/>
<circle cx="89.06" cy="272.7" r="2.2" fill="#00bfbf"/>
<circle cx="118.75" cy="271.06" r="2.2" fill="#00bfbf"/>
<circle cx="131.54" cy="268.71" r="2.2" fill="#00bfbf"/>
<circle cx="161.24" cy="272.35" r="2.2" fill="#00bfbf"/>
<circle cx="174.03" cy="266.25" r="2.2" fill="#00bfbf"/>
<path d="M46.9,269.7 C51.15,269.58 65.35,269.48 72.4,269 C79.45,268.52 84.52,267.53 89.2,266.8 C93.88,266.07 96.7,265.1 100.5,264.6 C104.3,264.1 106.52,263.97 112,263.8 C117.48,263.63 126.23,263.47 133.4,263.6 C140.57,263.73 148.22,264.25 155,264.6 C161.78,264.95 170.92,265.52 174.1,265.7" fill="none" stroke="#bfbf00" stroke-width="1.1" stroke-dasharray="3.5 1.5"/>
<circle cx="46.57" cy="269.3" r="2.2" fill="#bfbf00"/>
<circle cx="76.27" cy="274.34" r="2.2" fill="#bfbf00"/>
<circle cx="89.06" cy="268.24" r="2.2" fill="#bfbf00"/>
<circle cx="118.75" cy="255.58" r="2.2" fill="#bfbf00"/>
<circle cx="131.54" cy="254.64" r="2.2" fill="#bfbf00"/>
<circle cx="161.24" cy="263.08" r="2.2" fill="#bfbf00"/>
<circle cx="174.03" cy="242.79" r="2.2" fill="#bfbf00"/>
<path d="M46.9,269.7 C51.15,269.58 65.35,269.48 72.4,269 C79.45,268.52 84.52,267.53 89.2,266.8 C93.88,266.07 96.77,264.87 100.5,264.6 C104.23,264.33 107.02,264.57 111.6,265.2 C116.18,265.83 122.08,266.72 128,268.4 C133.92,270.08 141.77,273.82 147.1,275.3 C152.43,276.78 155.5,276.85 160,277.3 C164.5,277.75 171.75,277.88 174.1,278" fill="none" stroke="#008000" stroke-width="1.1" stroke-dasharray="3.5 1.5"/>
<circle cx="46.57" cy="269.53" r="2.2" fill="#008000"/>
<circle cx="76.27" cy="264.26" r="2.2" fill="#008000"/>
<circle cx="89.06" cy="248.31" r="2.2" fill="#008000"/>
<circle cx="118.75" cy="279.03" r="2.2" fill="#008000"/>
<circle cx="131.54" cy="277.74" r="2.2" fill="#008000"/>
<circle cx="161.24" cy="254.64" r="2.2" fill="#008000"/>
<circle cx="174.03" cy="275.4" r="2.2" fill="#008000"/>
<path d="M46.9,265.5 C48.45,264.93 53.38,263.47 56.2,262.1 C59.02,260.73 61.47,259.18 63.8,257.3 C66.13,255.42 67.87,253.68 70.2,250.8 C72.53,247.92 75.43,244.1 77.8,240 C80.17,235.9 81.48,232.6 84.4,226.2 C87.32,219.8 91.22,207.52 95.3,201.6 C99.38,195.68 103.9,193.88 108.9,190.7 C113.9,187.52 119.85,185.45 125.3,182.5 C130.75,179.55 133.47,174.67 141.6,173 C149.73,171.33 168.68,172.58 174.1,172.5" fill="none" stroke="#ff0000" stroke-width="1.1" stroke-dasharray="3.5 1.5"/>
<circle cx="46.57" cy="265.55" r="2.2" fill="#ff0000"/>
<circle cx="76.27" cy="217.58" r="2.2" fill="#ff0000"/>
<circle cx="89.06" cy="180.17" r="2.2" fill="#ff0000"/>
<circle cx="118.75" cy="168.44" r="2.2" fill="#ff0000"/>
<circle cx="131.54" cy="166.09" r="2.2" fill="#ff0000"/>
<circle cx="161.24" cy="180.05" r="2.2" fill="#ff0000"/>
<circle cx="174.03" cy="202.68" r="2.2" fill="#ff0000"/>
</g>
<rect x="40.5" y="159.95" width="140" height="125.2" fill="none" stroke="#262626" stroke-width="0.82"/>
<line x1="38.3" y1="282.79" x2="40.5" y2="282.79" stroke="#333" stroke-width="0.65"/>
<text x="35.4" y="285.14" font-size="6.5" text-anchor="end" textLength="13.62" lengthAdjust="spacingAndGlyphs">0.75</text>
<line x1="38.3" y1="266.07" x2="40.5" y2="266.07" stroke="#333" stroke-width="0.65"/>
<text x="35.4" y="268.43" font-size="6.5" text-anchor="end" textLength="13.62" lengthAdjust="spacingAndGlyphs">1.00</text>
<line x1="38.3" y1="249.36" x2="40.5" y2="249.36" stroke="#333" stroke-width="0.65"/>
<text x="35.4" y="251.71" font-size="6.5" text-anchor="end" textLength="13.62" lengthAdjust="spacingAndGlyphs">1.25</text>
<line x1="38.3" y1="232.65" x2="40.5" y2="232.65" stroke="#333" stroke-width="0.65"/>
<text x="35.4" y="235" font-size="6.5" text-anchor="end" textLength="13.62" lengthAdjust="spacingAndGlyphs">1.50</text>
<line x1="38.3" y1="215.94" x2="40.5" y2="215.94" stroke="#333" stroke-width="0.65"/>
<text x="35.4" y="218.29" font-size="6.5" text-anchor="end" textLength="13.62" lengthAdjust="spacingAndGlyphs">1.75</text>
<line x1="38.3" y1="199.23" x2="40.5" y2="199.23" stroke="#333" stroke-width="0.65"/>
<text x="35.4" y="201.58" font-size="6.5" text-anchor="end" textLength="13.62" lengthAdjust="spacingAndGlyphs">2.00</text>
<line x1="38.3" y1="182.51" x2="40.5" y2="182.51" stroke="#333" stroke-width="0.65"/>
<text x="35.4" y="184.86" font-size="6.5" text-anchor="end" textLength="13.62" lengthAdjust="spacingAndGlyphs">2.25</text>
<line x1="38.3" y1="165.8" x2="40.5" y2="165.8" stroke="#333" stroke-width="0.65"/>
<text x="35.4" y="168.15" font-size="6.5" text-anchor="end" textLength="13.62" lengthAdjust="spacingAndGlyphs">2.50</text>
<line x1="46.57" y1="285.15" x2="46.57" y2="287.35" stroke="#333" stroke-width="0.65"/>
<text x="46.57" y="294.75" font-size="6.5" text-anchor="middle" textLength="14.88" lengthAdjust="spacingAndGlyphs">−3.0</text>
<line x1="67.82" y1="285.15" x2="67.82" y2="287.35" stroke="#333" stroke-width="0.65"/>
<text x="67.82" y="294.75" font-size="6.5" text-anchor="middle" textLength="14.88" lengthAdjust="spacingAndGlyphs">−2.5</text>
<line x1="89.06" y1="285.15" x2="89.06" y2="287.35" stroke="#333" stroke-width="0.65"/>
<text x="89.06" y="294.75" font-size="6.5" text-anchor="middle" textLength="14.88" lengthAdjust="spacingAndGlyphs">−2.0</text>
<line x1="110.3" y1="285.15" x2="110.3" y2="287.35" stroke="#333" stroke-width="0.65"/>
<text x="110.3" y="294.75" font-size="6.5" text-anchor="middle" textLength="14.88" lengthAdjust="spacingAndGlyphs">−1.5</text>
<line x1="131.54" y1="285.15" x2="131.54" y2="287.35" stroke="#333" stroke-width="0.65"/>
<text x="131.54" y="294.75" font-size="6.5" text-anchor="middle" textLength="14.88" lengthAdjust="spacingAndGlyphs">−1.0</text>
<line x1="152.78" y1="285.15" x2="152.78" y2="287.35" stroke="#333" stroke-width="0.65"/>
<text x="152.78" y="294.75" font-size="6.5" text-anchor="middle" textLength="14.88" lengthAdjust="spacingAndGlyphs">−0.5</text>
<line x1="174.03" y1="285.15" x2="174.03" y2="287.35" stroke="#333" stroke-width="0.65"/>
<text x="174.03" y="294.75" font-size="6.5" text-anchor="middle" textLength="9.64" lengthAdjust="spacingAndGlyphs">0.0</text>
<text x="110.5" y="302.95" font-size="6.5" text-anchor="middle" textLength="37.02" lengthAdjust="spacingAndGlyphs">log-10 dose</text>
</g>
<g>
<clipPath id="cp11"><rect x="208.5" y="159.95" width="140" height="125.2"/></clipPath>
<g clip-path="url(#cp11)">
<path d="M214.9,178.5 C227.05,178.5 269.73,178.65 287.8,178.5 C305.87,178.35 314.25,178.07 323.3,177.6 C332.35,177.13 338.97,176.02 342.1,175.7" fill="none" stroke="#00bfbf" stroke-width="1.1" stroke-dasharray="3.5 1.5"/>
<circle cx="214.67" cy="169.03" r="2.2" fill="#00bfbf"/>
<circle cx="244.37" cy="171.39" r="2.2" fill="#00bfbf"/>
<circle cx="257.16" cy="173.31" r="2.2" fill="#00bfbf"/>
<circle cx="286.85" cy="170.27" r="2.2" fill="#00bfbf"/>
<circle cx="299.64" cy="171.84" r="2.2" fill="#00bfbf"/>
<circle cx="329.34" cy="171.84" r="2.2" fill="#00bfbf"/>
<circle cx="342.13" cy="174.55" r="2.2" fill="#00bfbf"/>
<path d="M214.9,178.5 C219.78,178.72 235.68,179.13 244.2,179.8 C252.72,180.47 258.73,181.37 266,182.5 C273.27,183.63 280.53,185 287.8,186.6 C295.07,188.2 300.55,190.63 309.6,192.1 C318.65,193.57 336.68,194.85 342.1,195.4" fill="none" stroke="#bfbf00" stroke-width="1.1" stroke-dasharray="3.5 1.5"/>
<circle cx="214.67" cy="180.96" r="2.2" fill="#bfbf00"/>
<circle cx="244.37" cy="182.54" r="2.2" fill="#bfbf00"/>
<circle cx="257.16" cy="180.29" r="2.2" fill="#bfbf00"/>
<circle cx="286.85" cy="185.13" r="2.2" fill="#bfbf00"/>
<circle cx="299.64" cy="190.65" r="2.2" fill="#bfbf00"/>
<circle cx="329.34" cy="222.75" r="2.2" fill="#bfbf00"/>
<circle cx="342.13" cy="165.65" r="2.2" fill="#bfbf00"/>
<path d="M214.9,178.5 C219.78,178.82 235.68,179.37 244.2,180.4 C252.72,181.43 258.73,183.2 266,184.7 C273.27,186.2 281.9,187.72 287.8,189.4 C293.7,191.08 295.95,193.3 301.4,194.8 C306.85,196.3 313.72,197.8 320.5,198.4 C327.28,199 338.5,198.4 342.1,198.4" fill="none" stroke="#008000" stroke-width="1.1" stroke-dasharray="3.5 1.5"/>
<circle cx="214.67" cy="183.33" r="2.2" fill="#008000"/>
<circle cx="244.37" cy="199.77" r="2.2" fill="#008000"/>
<circle cx="257.16" cy="234.68" r="2.2" fill="#008000"/>
<circle cx="286.85" cy="240.88" r="2.2" fill="#008000"/>
<circle cx="299.64" cy="216.55" r="2.2" fill="#008000"/>
<circle cx="329.34" cy="199.1" r="2.2" fill="#008000"/>
<circle cx="342.13" cy="171.5" r="2.2" fill="#008000"/>
<path d="M214.9,182.5 C217.05,183.42 222.92,184.82 227.8,188 C232.68,191.18 239.65,196.83 244.2,201.6 C248.75,206.37 251.02,211.82 255.1,216.6 C259.18,221.38 263.25,226.67 268.7,230.3 C274.15,233.93 281.88,236.37 287.8,238.4 C293.72,240.43 298.75,240.9 304.2,242.5 C309.65,244.1 314.18,246.85 320.5,248 C326.82,249.15 338.5,249.17 342.1,249.4" fill="none" stroke="#ff0000" stroke-width="1.1" stroke-dasharray="3.5 1.5"/>
<circle cx="214.67" cy="177.92" r="2.2" fill="#ff0000"/>
<circle cx="244.37" cy="205.85" r="2.2" fill="#ff0000"/>
<circle cx="257.16" cy="242.34" r="2.2" fill="#ff0000"/>
<circle cx="286.85" cy="276.13" r="2.2" fill="#ff0000"/>
<circle cx="299.64" cy="279.62" r="2.2" fill="#ff0000"/>
<circle cx="329.34" cy="268.47" r="2.2" fill="#ff0000"/>
<circle cx="342.13" cy="271.51" r="2.2" fill="#ff0000"/>
</g>
<rect x="208.5" y="159.95" width="140" height="125.2" fill="none" stroke="#262626" stroke-width="0.82"/>
<line x1="206.3" y1="284.6" x2="208.5" y2="284.6" stroke="#333" stroke-width="0.65"/>
<text x="203.4" y="286.95" font-size="6.5" text-anchor="end" textLength="13.62" lengthAdjust="spacingAndGlyphs">1.75</text>
<line x1="206.3" y1="269.54" x2="208.5" y2="269.54" stroke="#333" stroke-width="0.65"/>
<text x="203.4" y="271.89" font-size="6.5" text-anchor="end" textLength="13.62" lengthAdjust="spacingAndGlyphs">2.00</text>
<line x1="206.3" y1="254.47" x2="208.5" y2="254.47" stroke="#333" stroke-width="0.65"/>
<text x="203.4" y="256.82" font-size="6.5" text-anchor="end" textLength="13.62" lengthAdjust="spacingAndGlyphs">2.25</text>
<line x1="206.3" y1="239.41" x2="208.5" y2="239.41" stroke="#333" stroke-width="0.65"/>
<text x="203.4" y="241.76" font-size="6.5" text-anchor="end" textLength="13.62" lengthAdjust="spacingAndGlyphs">2.50</text>
<line x1="206.3" y1="224.35" x2="208.5" y2="224.35" stroke="#333" stroke-width="0.65"/>
<text x="203.4" y="226.7" font-size="6.5" text-anchor="end" textLength="13.62" lengthAdjust="spacingAndGlyphs">2.75</text>
<line x1="206.3" y1="209.29" x2="208.5" y2="209.29" stroke="#333" stroke-width="0.65"/>
<text x="203.4" y="211.64" font-size="6.5" text-anchor="end" textLength="13.62" lengthAdjust="spacingAndGlyphs">3.00</text>
<line x1="206.3" y1="194.22" x2="208.5" y2="194.22" stroke="#333" stroke-width="0.65"/>
<text x="203.4" y="196.57" font-size="6.5" text-anchor="end" textLength="13.62" lengthAdjust="spacingAndGlyphs">3.25</text>
<line x1="206.3" y1="179.16" x2="208.5" y2="179.16" stroke="#333" stroke-width="0.65"/>
<text x="203.4" y="181.51" font-size="6.5" text-anchor="end" textLength="13.62" lengthAdjust="spacingAndGlyphs">3.50</text>
<line x1="206.3" y1="164.1" x2="208.5" y2="164.1" stroke="#333" stroke-width="0.65"/>
<text x="203.4" y="166.45" font-size="6.5" text-anchor="end" textLength="13.62" lengthAdjust="spacingAndGlyphs">3.75</text>
<line x1="214.67" y1="285.15" x2="214.67" y2="287.35" stroke="#333" stroke-width="0.65"/>
<text x="214.67" y="294.75" font-size="6.5" text-anchor="middle" textLength="14.88" lengthAdjust="spacingAndGlyphs">−3.0</text>
<line x1="235.92" y1="285.15" x2="235.92" y2="287.35" stroke="#333" stroke-width="0.65"/>
<text x="235.92" y="294.75" font-size="6.5" text-anchor="middle" textLength="14.88" lengthAdjust="spacingAndGlyphs">−2.5</text>
<line x1="257.16" y1="285.15" x2="257.16" y2="287.35" stroke="#333" stroke-width="0.65"/>
<text x="257.16" y="294.75" font-size="6.5" text-anchor="middle" textLength="14.88" lengthAdjust="spacingAndGlyphs">−2.0</text>
<line x1="278.4" y1="285.15" x2="278.4" y2="287.35" stroke="#333" stroke-width="0.65"/>
<text x="278.4" y="294.75" font-size="6.5" text-anchor="middle" textLength="14.88" lengthAdjust="spacingAndGlyphs">−1.5</text>
<line x1="299.64" y1="285.15" x2="299.64" y2="287.35" stroke="#333" stroke-width="0.65"/>
<text x="299.64" y="294.75" font-size="6.5" text-anchor="middle" textLength="14.88" lengthAdjust="spacingAndGlyphs">−1.0</text>
<line x1="320.88" y1="285.15" x2="320.88" y2="287.35" stroke="#333" stroke-width="0.65"/>
<text x="320.88" y="294.75" font-size="6.5" text-anchor="middle" textLength="14.88" lengthAdjust="spacingAndGlyphs">−0.5</text>
<line x1="342.13" y1="285.15" x2="342.13" y2="287.35" stroke="#333" stroke-width="0.65"/>
<text x="342.13" y="294.75" font-size="6.5" text-anchor="middle" textLength="9.64" lengthAdjust="spacingAndGlyphs">0.0</text>
<text x="278.5" y="302.95" font-size="6.5" text-anchor="middle" textLength="37.02" lengthAdjust="spacingAndGlyphs">log-10 dose</text>
</g>
<g>
<clipPath id="cp12"><rect x="376.5" y="159.95" width="140" height="125.2"/></clipPath>
<g clip-path="url(#cp12)">
<path d="M382.9,276.1 C395.05,276.18 436.83,276.28 455.8,276.6 C474.77,276.92 487.65,277.77 496.7,278 C505.75,278.23 507.87,278 510.1,278" fill="none" stroke="#00bfbf" stroke-width="1.1" stroke-dasharray="3.5 1.5"/>
<circle cx="382.77" cy="275.41" r="2.2" fill="#00bfbf"/>
<circle cx="412.47" cy="275.41" r="2.2" fill="#00bfbf"/>
<circle cx="425.26" cy="274.41" r="2.2" fill="#00bfbf"/>
<circle cx="454.95" cy="275.11" r="2.2" fill="#00bfbf"/>
<circle cx="467.74" cy="279.2" r="2.2" fill="#00bfbf"/>
<circle cx="497.44" cy="275.81" r="2.2" fill="#00bfbf"/>
<circle cx="510.23" cy="275.81" r="2.2" fill="#00bfbf"/>
<path d="M382.9,275.8 C385.97,275.48 394.6,275.58 401.3,273.9 C408,272.22 416.75,269.57 423.1,265.7 C429.45,261.83 433.95,255.47 439.4,250.7 C444.85,245.93 450.33,241.63 455.8,237.1 C461.27,232.57 466.75,227.37 472.2,223.5 C477.65,219.63 483.5,215.95 488.5,213.9 C493.5,211.85 498.6,211.6 502.2,211.2 C505.8,210.8 508.78,211.45 510.1,211.5" fill="none" stroke="#bfbf00" stroke-width="1.1" stroke-dasharray="3.5 1.5"/>
<circle cx="382.77" cy="277.1" r="2.2" fill="#bfbf00"/>
<circle cx="412.47" cy="271.31" r="2.2" fill="#bfbf00"/>
<circle cx="425.26" cy="264.73" r="2.2" fill="#bfbf00"/>
<circle cx="454.95" cy="213.52" r="2.2" fill="#bfbf00"/>
<circle cx="467.74" cy="188.56" r="2.2" fill="#bfbf00"/>
<circle cx="497.44" cy="165.51" r="2.2" fill="#bfbf00"/>
<circle cx="510.23" cy="266.82" r="2.2" fill="#bfbf00"/>
<path d="M382.9,276.6 C387.78,276.28 404.6,275.38 412.2,274.7 C419.8,274.02 422.13,273.55 428.5,272.5 C434.87,271.45 443.58,269.98 450.4,268.4 C457.22,266.82 463.05,264.67 469.4,263 C475.75,261.33 481.72,259.27 488.5,258.4 C495.28,257.53 506.5,257.9 510.1,257.8" fill="none" stroke="#008000" stroke-width="1.1" stroke-dasharray="3.5 1.5"/>
<circle cx="382.77" cy="273.31" r="2.2" fill="#008000"/>
<circle cx="412.47" cy="275.81" r="2.2" fill="#008000"/>
<circle cx="425.26" cy="234.58" r="2.2" fill="#008000"/>
<circle cx="454.95" cy="270.22" r="2.2" fill="#008000"/>
<circle cx="467.74" cy="271.61" r="2.2" fill="#008000"/>
<circle cx="497.44" cy="257.04" r="2.2" fill="#008000"/>
<circle cx="510.23" cy="263.13" r="2.2" fill="#008000"/>
<path d="M382.9,275.8 C387.78,274.8 404.6,271.8 412.2,269.8 C419.8,267.8 422.6,265.38 428.5,263.8 C434.4,262.22 440.78,262.25 447.6,260.3 C454.42,258.35 463.48,253.78 469.4,252.1 C475.32,250.42 476.32,250.62 483.1,250.2 C489.88,249.78 505.6,249.7 510.1,249.6" fill="none" stroke="#ff0000" stroke-width="1.1" stroke-dasharray="3.5 1.5"/>
<circle cx="382.77" cy="275.01" r="2.2" fill="#ff0000"/>
<circle cx="412.47" cy="264.93" r="2.2" fill="#ff0000"/>
<circle cx="425.26" cy="249.85" r="2.2" fill="#ff0000"/>
<circle cx="454.95" cy="252.55" r="2.2" fill="#ff0000"/>
<circle cx="467.74" cy="248.46" r="2.2" fill="#ff0000"/>
<circle cx="497.44" cy="255.34" r="2.2" fill="#ff0000"/>
<circle cx="510.23" cy="257.74" r="2.2" fill="#ff0000"/>
</g>
<rect x="376.5" y="159.95" width="140" height="125.2" fill="none" stroke="#262626" stroke-width="0.82"/>
<line x1="374.3" y1="284.59" x2="376.5" y2="284.59" stroke="#333" stroke-width="0.65"/>
<text x="371.4" y="286.94" font-size="6.5" text-anchor="end" textLength="13.62" lengthAdjust="spacingAndGlyphs">0.00</text>
<line x1="374.3" y1="268.11" x2="376.5" y2="268.11" stroke="#333" stroke-width="0.65"/>
<text x="371.4" y="270.46" font-size="6.5" text-anchor="end" textLength="13.62" lengthAdjust="spacingAndGlyphs">0.25</text>
<line x1="374.3" y1="251.62" x2="376.5" y2="251.62" stroke="#333" stroke-width="0.65"/>
<text x="371.4" y="253.97" font-size="6.5" text-anchor="end" textLength="13.62" lengthAdjust="spacingAndGlyphs">0.50</text>
<line x1="374.3" y1="235.14" x2="376.5" y2="235.14" stroke="#333" stroke-width="0.65"/>
<text x="371.4" y="237.49" font-size="6.5" text-anchor="end" textLength="13.62" lengthAdjust="spacingAndGlyphs">0.75</text>
<line x1="374.3" y1="218.65" x2="376.5" y2="218.65" stroke="#333" stroke-width="0.65"/>
<text x="371.4" y="221" font-size="6.5" text-anchor="end" textLength="13.62" lengthAdjust="spacingAndGlyphs">1.00</text>
<line x1="374.3" y1="202.17" x2="376.5" y2="202.17" stroke="#333" stroke-width="0.65"/>
<text x="371.4" y="204.52" font-size="6.5" text-anchor="end" textLength="13.62" lengthAdjust="spacingAndGlyphs">1.25</text>
<line x1="374.3" y1="185.69" x2="376.5" y2="185.69" stroke="#333" stroke-width="0.65"/>
<text x="371.4" y="188.03" font-size="6.5" text-anchor="end" textLength="13.62" lengthAdjust="spacingAndGlyphs">1.50</text>
<line x1="374.3" y1="169.2" x2="376.5" y2="169.2" stroke="#333" stroke-width="0.65"/>
<text x="371.4" y="171.55" font-size="6.5" text-anchor="end" textLength="13.62" lengthAdjust="spacingAndGlyphs">1.75</text>
<line x1="382.77" y1="285.15" x2="382.77" y2="287.35" stroke="#333" stroke-width="0.65"/>
<text x="382.77" y="294.75" font-size="6.5" text-anchor="middle" textLength="14.88" lengthAdjust="spacingAndGlyphs">−3.0</text>
<line x1="404.02" y1="285.15" x2="404.02" y2="287.35" stroke="#333" stroke-width="0.65"/>
<text x="404.02" y="294.75" font-size="6.5" text-anchor="middle" textLength="14.88" lengthAdjust="spacingAndGlyphs">−2.5</text>
<line x1="425.26" y1="285.15" x2="425.26" y2="287.35" stroke="#333" stroke-width="0.65"/>
<text x="425.26" y="294.75" font-size="6.5" text-anchor="middle" textLength="14.88" lengthAdjust="spacingAndGlyphs">−2.0</text>
<line x1="446.5" y1="285.15" x2="446.5" y2="287.35" stroke="#333" stroke-width="0.65"/>
<text x="446.5" y="294.75" font-size="6.5" text-anchor="middle" textLength="14.88" lengthAdjust="spacingAndGlyphs">−1.5</text>
<line x1="467.74" y1="285.15" x2="467.74" y2="287.35" stroke="#333" stroke-width="0.65"/>
<text x="467.74" y="294.75" font-size="6.5" text-anchor="middle" textLength="14.88" lengthAdjust="spacingAndGlyphs">−1.0</text>
<line x1="488.98" y1="285.15" x2="488.98" y2="287.35" stroke="#333" stroke-width="0.65"/>
<text x="488.98" y="294.75" font-size="6.5" text-anchor="middle" textLength="14.88" lengthAdjust="spacingAndGlyphs">−0.5</text>
<line x1="510.23" y1="285.15" x2="510.23" y2="287.35" stroke="#333" stroke-width="0.65"/>
<text x="510.23" y="294.75" font-size="6.5" text-anchor="middle" textLength="9.64" lengthAdjust="spacingAndGlyphs">0.0</text>
<text x="446.5" y="302.95" font-size="6.5" text-anchor="middle" textLength="37.02" lengthAdjust="spacingAndGlyphs">log-10 dose</text>
</g>
<g>
<clipPath id="cp13"><rect x="544.5" y="159.95" width="140" height="125.2"/></clipPath>
<g clip-path="url(#cp13)">
<path d="M551,275.1 C558.58,275.2 582.12,275.47 596.5,275.7 C610.88,275.93 623.7,275.92 637.3,276.5 C650.9,277.08 671.3,278.75 678.1,279.2" fill="none" stroke="#00bfbf" stroke-width="1.1" stroke-dasharray="3.5 1.5"/>
<circle cx="550.87" cy="276.37" r="2.2" fill="#00bfbf"/>
<circle cx="580.57" cy="277.52" r="2.2" fill="#00bfbf"/>
<circle cx="593.36" cy="278.26" r="2.2" fill="#00bfbf"/>
<circle cx="623.05" cy="276.16" r="2.2" fill="#00bfbf"/>
<circle cx="635.84" cy="279.31" r="2.2" fill="#00bfbf"/>
<circle cx="665.54" cy="275.42" r="2.2" fill="#00bfbf"/>
<circle cx="678.33" cy="271.84" r="2.2" fill="#00bfbf"/>
<path d="M551,273.8 C554.03,273.33 563.88,272.6 569.2,271 C574.52,269.4 578.35,267.6 582.9,264.2 C587.45,260.8 591.97,256.05 596.5,250.6 C601.03,245.15 605.57,237.85 610.1,231.5 C614.63,225.15 619.17,218.4 623.7,212.5 C628.23,206.6 632.75,200.65 637.3,196.1 C641.85,191.55 646.45,187.92 651,185.2 C655.55,182.48 660.08,180.8 664.6,179.8 C669.12,178.8 675.85,179.3 678.1,179.2" fill="none" stroke="#bfbf00" stroke-width="1.1" stroke-dasharray="3.5 1.5"/>
<circle cx="550.87" cy="273.95" r="2.2" fill="#bfbf00"/>
<circle cx="580.57" cy="264.37" r="2.2" fill="#bfbf00"/>
<circle cx="593.36" cy="252.17" r="2.2" fill="#bfbf00"/>
<circle cx="623.05" cy="183.67" r="2.2" fill="#bfbf00"/>
<circle cx="635.84" cy="165.05" r="2.2" fill="#bfbf00"/>
<circle cx="665.54" cy="172.94" r="2.2" fill="#bfbf00"/>
<circle cx="678.33" cy="239.54" r="2.2" fill="#bfbf00"/>
<path d="M551,274.6 C555.4,274.47 569.82,274.72 577.4,273.8 C584.98,272.88 590.6,271.15 596.5,269.1 C602.4,267.05 607.37,264.35 612.8,261.5 C618.23,258.65 623.65,255.63 629.1,252 C634.55,248.37 640.03,243.02 645.5,239.7 C650.97,236.38 656.47,233.55 661.9,232.1 C667.33,230.65 675.4,231.18 678.1,231" fill="none" stroke="#008000" stroke-width="1.1" stroke-dasharray="3.5 1.5"/>
<circle cx="550.87" cy="273.21" r="2.2" fill="#008000"/>
<circle cx="580.57" cy="273.63" r="2.2" fill="#008000"/>
<circle cx="593.36" cy="219.97" r="2.2" fill="#008000"/>
<circle cx="623.05" cy="258.9" r="2.2" fill="#008000"/>
<circle cx="635.84" cy="263.21" r="2.2" fill="#008000"/>
<circle cx="665.54" cy="266.37" r="2.2" fill="#008000"/>
<circle cx="678.33" cy="268.69" r="2.2" fill="#008000"/>
<path d="M551,273.8 C555.85,273.7 572.97,272.88 580.1,273.2 C587.23,273.52 589.25,274.65 593.8,275.7 C598.35,276.75 602.87,279.6 607.4,279.5 C611.93,279.4 616.47,276.73 621,275.1 C625.53,273.47 629.6,271.42 634.6,269.7 C639.6,267.98 643.75,265.8 651,264.8 C658.25,263.8 673.58,263.88 678.1,263.7" fill="none" stroke="#ff0000" stroke-width="1.1" stroke-dasharray="3.5 1.5"/>
<circle cx="550.87" cy="271.11" r="2.2" fill="#ff0000"/>
<circle cx="580.57" cy="270.05" r="2.2" fill="#ff0000"/>
<circle cx="593.36" cy="270.05" r="2.2" fill="#ff0000"/>
<circle cx="623.05" cy="273.95" r="2.2" fill="#ff0000"/>
<circle cx="635.84" cy="277.52" r="2.2" fill="#ff0000"/>
<circle cx="665.54" cy="276.79" r="2.2" fill="#ff0000"/>
<circle cx="678.33" cy="263.21" r="2.2" fill="#ff0000"/>
</g>
<rect x="544.5" y="159.95" width="140" height="125.2" fill="none" stroke="#262626" stroke-width="0.82"/>
<line x1="542.3" y1="271" x2="544.5" y2="271" stroke="#333" stroke-width="0.65"/>
<text x="539.4" y="273.35" font-size="6.5" text-anchor="end" textLength="9.64" lengthAdjust="spacingAndGlyphs">0.5</text>
<line x1="542.3" y1="247.3" x2="544.5" y2="247.3" stroke="#333" stroke-width="0.65"/>
<text x="539.4" y="249.65" font-size="6.5" text-anchor="end" textLength="9.64" lengthAdjust="spacingAndGlyphs">1.0</text>
<line x1="542.3" y1="223.6" x2="544.5" y2="223.6" stroke="#333" stroke-width="0.65"/>
<text x="539.4" y="225.95" font-size="6.5" text-anchor="end" textLength="9.64" lengthAdjust="spacingAndGlyphs">1.5</text>
<line x1="542.3" y1="199.9" x2="544.5" y2="199.9" stroke="#333" stroke-width="0.65"/>
<text x="539.4" y="202.25" font-size="6.5" text-anchor="end" textLength="9.64" lengthAdjust="spacingAndGlyphs">2.0</text>
<line x1="542.3" y1="176.2" x2="544.5" y2="176.2" stroke="#333" stroke-width="0.65"/>
<text x="539.4" y="178.55" font-size="6.5" text-anchor="end" textLength="9.64" lengthAdjust="spacingAndGlyphs">2.5</text>
<line x1="550.87" y1="285.15" x2="550.87" y2="287.35" stroke="#333" stroke-width="0.65"/>
<text x="550.87" y="294.75" font-size="6.5" text-anchor="middle" textLength="14.88" lengthAdjust="spacingAndGlyphs">−3.0</text>
<line x1="572.12" y1="285.15" x2="572.12" y2="287.35" stroke="#333" stroke-width="0.65"/>
<text x="572.12" y="294.75" font-size="6.5" text-anchor="middle" textLength="14.88" lengthAdjust="spacingAndGlyphs">−2.5</text>
<line x1="593.36" y1="285.15" x2="593.36" y2="287.35" stroke="#333" stroke-width="0.65"/>
<text x="593.36" y="294.75" font-size="6.5" text-anchor="middle" textLength="14.88" lengthAdjust="spacingAndGlyphs">−2.0</text>
<line x1="614.6" y1="285.15" x2="614.6" y2="287.35" stroke="#333" stroke-width="0.65"/>
<text x="614.6" y="294.75" font-size="6.5" text-anchor="middle" textLength="14.88" lengthAdjust="spacingAndGlyphs">−1.5</text>
<line x1="635.84" y1="285.15" x2="635.84" y2="287.35" stroke="#333" stroke-width="0.65"/>
<text x="635.84" y="294.75" font-size="6.5" text-anchor="middle" textLength="14.88" lengthAdjust="spacingAndGlyphs">−1.0</text>
<line x1="657.08" y1="285.15" x2="657.08" y2="287.35" stroke="#333" stroke-width="0.65"/>
<text x="657.08" y="294.75" font-size="6.5" text-anchor="middle" textLength="14.88" lengthAdjust="spacingAndGlyphs">−0.5</text>
<line x1="678.33" y1="285.15" x2="678.33" y2="287.35" stroke="#333" stroke-width="0.65"/>
<text x="678.33" y="294.75" font-size="6.5" text-anchor="middle" textLength="9.64" lengthAdjust="spacingAndGlyphs">0.0</text>
<text x="614.5" y="302.95" font-size="6.5" text-anchor="middle" textLength="37.02" lengthAdjust="spacingAndGlyphs">log-10 dose</text>
</g>
<text x="5.6" y="159.8" font-size="9.2" font-weight="bold" textLength="15.2" lengthAdjust="spacingAndGlyphs">(B)</text>
<text x="5.8" y="240.35" font-size="7.8" font-weight="bold" textLength="45.03" lengthAdjust="spacingAndGlyphs" transform="rotate(-90 5.8 240.35)">CPA-logisg</text>
<text class="yl" x="17.6" y="239.45" font-size="6.5" textLength="34.23" lengthAdjust="spacingAndGlyphs" transform="rotate(-90 17.6 239.45)">Expression</text>
<g>
<clipPath id="cp20"><rect x="40.5" y="310.4" width="140" height="125.1"/></clipPath>
<g clip-path="url(#cp20)">
<path d="M46.9,422.5 L174.1,422.5" fill="none" stroke="#00bfbf" stroke-width="1.1" stroke-dasharray="3.5 1.5"/>
<circle cx="46.57" cy="423.92" r="2.2" fill="#00bfbf"/>
<circle cx="76.27" cy="423.1" r="2.2" fill="#00bfbf"/>
<circle cx="89.06" cy="423.1" r="2.2" fill="#00bfbf"/>
<circle cx="118.75" cy="421.46" r="2.2" fill="#00bfbf"/>
<circle cx="131.54" cy="419.11" r="2.2" fill="#00bfbf"/>
<circle cx="161.24" cy="422.75" r="2.2" fill="#00bfbf"/>
<circle cx="174.03" cy="416.65" r="2.2" fill="#00bfbf"/>
<path d="M46.9,417.1 C54.5,417.1 81.72,417.78 92.5,417.1 C103.28,416.42 104.78,414.28 111.6,413 C118.42,411.72 126.12,410.77 133.4,409.4 C140.68,408.03 148.52,405.8 155.3,404.8 C162.08,403.8 170.97,403.63 174.1,403.4" fill="none" stroke="#bfbf00" stroke-width="1.1" stroke-dasharray="3.5 1.5"/>
<circle cx="46.57" cy="419.7" r="2.2" fill="#bfbf00"/>
<circle cx="76.27" cy="424.74" r="2.2" fill="#bfbf00"/>
<circle cx="89.06" cy="418.64" r="2.2" fill="#bfbf00"/>
<circle cx="118.75" cy="405.98" r="2.2" fill="#bfbf00"/>
<circle cx="131.54" cy="405.04" r="2.2" fill="#bfbf00"/>
<circle cx="161.24" cy="413.48" r="2.2" fill="#bfbf00"/>
<circle cx="174.03" cy="393.19" r="2.2" fill="#bfbf00"/>
<path d="M46.9,415.2 C51.78,415.28 69.95,414.93 76.2,415.7 C82.45,416.47 81.68,419.93 84.4,419.8 C87.12,419.67 89.33,416.48 92.5,414.9 C95.67,413.32 98.85,411.38 103.4,410.3 C107.95,409.22 115.7,407.72 119.8,408.4 C123.9,409.08 124.37,413.4 128,414.4 C131.63,415.4 136.6,414.05 141.6,414.4 C146.6,414.75 152.58,415.6 158,416.5 C163.42,417.4 171.42,419.25 174.1,419.8" fill="none" stroke="#008000" stroke-width="1.1" stroke-dasharray="3.5 1.5"/>
<circle cx="46.57" cy="419.93" r="2.2" fill="#008000"/>
<circle cx="76.27" cy="414.66" r="2.2" fill="#008000"/>
<circle cx="89.06" cy="398.71" r="2.2" fill="#008000"/>
<circle cx="118.75" cy="429.43" r="2.2" fill="#008000"/>
<circle cx="131.54" cy="428.14" r="2.2" fill="#008000"/>
<circle cx="161.24" cy="405.04" r="2.2" fill="#008000"/>
<circle cx="174.03" cy="425.8" r="2.2" fill="#008000"/>
<path d="M46.9,405.6 C48.15,405.02 51.8,403.6 54.4,402.1 C57,400.6 59.78,400.02 62.5,396.6 C65.22,393.18 67.97,386.37 70.7,381.6 C73.43,376.83 76.17,373.9 78.9,368 C81.63,362.1 84.15,353.12 87.1,346.2 C90.05,339.28 93.43,333.07 96.6,326.5 C104.33,326.23 111.38,326.15 119.8,325.7 C128.22,325.25 138.05,324.25 147.1,323.8 C156.15,323.35 169.6,323.13 174.1,323" fill="none" stroke="#ff0000" stroke-width="1.1" stroke-dasharray="3.5 1.5"/>
<circle cx="46.57" cy="415.95" r="2.2" fill="#ff0000"/>
<circle cx="76.27" cy="367.98" r="2.2" fill="#ff0000"/>
<circle cx="89.06" cy="330.57" r="2.2" fill="#ff0000"/>
<circle cx="118.75" cy="318.84" r="2.2" fill="#ff0000"/>
<circle cx="131.54" cy="316.49" r="2.2" fill="#ff0000"/>
<circle cx="161.24" cy="330.45" r="2.2" fill="#ff0000"/>
<circle cx="174.03" cy="353.08" r="2.2" fill="#ff0000"/>
</g>
<rect x="40.5" y="310.4" width="140" height="125.1" fill="none" stroke="#262626" stroke-width="0.82"/>
<line x1="38.3" y1="433.19" x2="40.5" y2="433.19" stroke="#333" stroke-width="0.65"/>
<text x="35.4" y="435.54" font-size="6.5" text-anchor="end" textLength="13.62" lengthAdjust="spacingAndGlyphs">0.75</text>
<line x1="38.3" y1="416.47" x2="40.5" y2="416.47" stroke="#333" stroke-width="0.65"/>
<text x="35.4" y="418.82" font-size="6.5" text-anchor="end" textLength="13.62" lengthAdjust="spacingAndGlyphs">1.00</text>
<line x1="38.3" y1="399.76" x2="40.5" y2="399.76" stroke="#333" stroke-width="0.65"/>
<text x="35.4" y="402.11" font-size="6.5" text-anchor="end" textLength="13.62" lengthAdjust="spacingAndGlyphs">1.25</text>
<line x1="38.3" y1="383.05" x2="40.5" y2="383.05" stroke="#333" stroke-width="0.65"/>
<text x="35.4" y="385.4" font-size="6.5" text-anchor="end" textLength="13.62" lengthAdjust="spacingAndGlyphs">1.50</text>
<line x1="38.3" y1="366.34" x2="40.5" y2="366.34" stroke="#333" stroke-width="0.65"/>
<text x="35.4" y="368.69" font-size="6.5" text-anchor="end" textLength="13.62" lengthAdjust="spacingAndGlyphs">1.75</text>
<line x1="38.3" y1="349.62" x2="40.5" y2="349.62" stroke="#333" stroke-width="0.65"/>
<text x="35.4" y="351.98" font-size="6.5" text-anchor="end" textLength="13.62" lengthAdjust="spacingAndGlyphs">2.00</text>
<line x1="38.3" y1="332.91" x2="40.5" y2="332.91" stroke="#333" stroke-width="0.65"/>
<text x="35.4" y="335.26" font-size="6.5" text-anchor="end" textLength="13.62" lengthAdjust="spacingAndGlyphs">2.25</text>
<line x1="38.3" y1="316.2" x2="40.5" y2="316.2" stroke="#333" stroke-width="0.65"/>
<text x="35.4" y="318.55" font-size="6.5" text-anchor="end" textLength="13.62" lengthAdjust="spacingAndGlyphs">2.50</text>
<line x1="46.57" y1="435.5" x2="46.57" y2="437.7" stroke="#333" stroke-width="0.65"/>
<text x="46.57" y="445.1" font-size="6.5" text-anchor="middle" textLength="14.88" lengthAdjust="spacingAndGlyphs">−3.0</text>
<line x1="67.82" y1="435.5" x2="67.82" y2="437.7" stroke="#333" stroke-width="0.65"/>
<text x="67.82" y="445.1" font-size="6.5" text-anchor="middle" textLength="14.88" lengthAdjust="spacingAndGlyphs">−2.5</text>
<line x1="89.06" y1="435.5" x2="89.06" y2="437.7" stroke="#333" stroke-width="0.65"/>
<text x="89.06" y="445.1" font-size="6.5" text-anchor="middle" textLength="14.88" lengthAdjust="spacingAndGlyphs">−2.0</text>
<line x1="110.3" y1="435.5" x2="110.3" y2="437.7" stroke="#333" stroke-width="0.65"/>
<text x="110.3" y="445.1" font-size="6.5" text-anchor="middle" textLength="14.88" lengthAdjust="spacingAndGlyphs">−1.5</text>
<line x1="131.54" y1="435.5" x2="131.54" y2="437.7" stroke="#333" stroke-width="0.65"/>
<text x="131.54" y="445.1" font-size="6.5" text-anchor="middle" textLength="14.88" lengthAdjust="spacingAndGlyphs">−1.0</text>
<line x1="152.78" y1="435.5" x2="152.78" y2="437.7" stroke="#333" stroke-width="0.65"/>
<text x="152.78" y="445.1" font-size="6.5" text-anchor="middle" textLength="14.88" lengthAdjust="spacingAndGlyphs">−0.5</text>
<line x1="174.03" y1="435.5" x2="174.03" y2="437.7" stroke="#333" stroke-width="0.65"/>
<text x="174.03" y="445.1" font-size="6.5" text-anchor="middle" textLength="9.64" lengthAdjust="spacingAndGlyphs">0.0</text>
</g>
<g>
<clipPath id="cp21"><rect x="208.5" y="310.4" width="140" height="125.1"/></clipPath>
<g clip-path="url(#cp21)">
<path d="M214.9,321.6 L342.1,321.6" fill="none" stroke="#00bfbf" stroke-width="1.1" stroke-dasharray="3.5 1.5"/>
<circle cx="214.67" cy="319.43" r="2.2" fill="#00bfbf"/>
<circle cx="244.37" cy="321.79" r="2.2" fill="#00bfbf"/>
<circle cx="257.16" cy="323.71" r="2.2" fill="#00bfbf"/>
<circle cx="286.85" cy="320.67" r="2.2" fill="#00bfbf"/>
<circle cx="299.64" cy="322.24" r="2.2" fill="#00bfbf"/>
<circle cx="329.34" cy="322.24" r="2.2" fill="#00bfbf"/>
<circle cx="342.13" cy="324.95" r="2.2" fill="#00bfbf"/>
<path d="M214.9,335.8 C220.23,335.72 237.02,335.75 246.9,335.3 C256.78,334.85 267.38,333.1 274.2,333.1 C281.02,333.1 283.27,333.8 287.8,335.3 C292.33,336.8 295.95,339.6 301.4,342.1 C306.85,344.6 315.5,348.25 320.5,350.3 C325.5,352.35 327.8,353.63 331.4,354.4 C335,355.17 340.32,354.82 342.1,354.9" fill="none" stroke="#bfbf00" stroke-width="1.1" stroke-dasharray="3.5 1.5"/>
<circle cx="214.67" cy="331.36" r="2.2" fill="#bfbf00"/>
<circle cx="244.37" cy="332.94" r="2.2" fill="#bfbf00"/>
<circle cx="257.16" cy="330.69" r="2.2" fill="#bfbf00"/>
<circle cx="286.85" cy="335.53" r="2.2" fill="#bfbf00"/>
<circle cx="299.64" cy="341.05" r="2.2" fill="#bfbf00"/>
<circle cx="329.34" cy="373.15" r="2.2" fill="#bfbf00"/>
<circle cx="342.13" cy="316.05" r="2.2" fill="#bfbf00"/>
<path d="M214.9,343.5 C220.68,343.5 242.9,342.15 249.6,343.5 C256.3,344.85 252.37,348.43 255.1,351.6 C257.83,354.77 262.37,360.13 266,362.5 C269.63,364.87 272.82,365.12 276.9,365.8 C280.98,366.48 287.32,367.5 290.5,366.6 C293.68,365.7 292.82,361.62 296,360.4 C299.18,359.18 304.6,360.08 309.6,359.3 C314.6,358.52 320.58,357.98 326,355.7 C331.42,353.42 339.42,347.28 342.1,345.6" fill="none" stroke="#008000" stroke-width="1.1" stroke-dasharray="3.5 1.5"/>
<circle cx="214.67" cy="333.73" r="2.2" fill="#008000"/>
<circle cx="244.37" cy="350.17" r="2.2" fill="#008000"/>
<circle cx="257.16" cy="385.08" r="2.2" fill="#008000"/>
<circle cx="286.85" cy="391.28" r="2.2" fill="#008000"/>
<circle cx="299.64" cy="366.95" r="2.2" fill="#008000"/>
<circle cx="329.34" cy="349.5" r="2.2" fill="#008000"/>
<circle cx="342.13" cy="321.9" r="2.2" fill="#008000"/>
<path d="M214.9,337.5 C217.5,338.27 225.62,337.93 230.5,342.1 C235.38,346.27 240.1,355.45 244.2,362.5 C248.3,369.55 251.7,376.75 255.1,384.4 C258.5,392.05 261.43,400.4 264.6,408.4 C272.33,409.03 279.38,409.77 287.8,410.3 C296.22,410.83 306.05,411.25 315.1,411.6 C324.15,411.95 337.6,412.27 342.1,412.4" fill="none" stroke="#ff0000" stroke-width="1.1" stroke-dasharray="3.5 1.5"/>
<circle cx="214.67" cy="328.32" r="2.2" fill="#ff0000"/>
<circle cx="244.37" cy="356.25" r="2.2" fill="#ff0000"/>
<circle cx="257.16" cy="392.74" r="2.2" fill="#ff0000"/>
<circle cx="286.85" cy="426.53" r="2.2" fill="#ff0000"/>
<circle cx="299.64" cy="430.02" r="2.2" fill="#ff0000"/>
<circle cx="329.34" cy="418.87" r="2.2" fill="#ff0000"/>
<circle cx="342.13" cy="421.91" r="2.2" fill="#ff0000"/>
</g>
<rect x="208.5" y="310.4" width="140" height="125.1" fill="none" stroke="#262626" stroke-width="0.82"/>
<line x1="206.3" y1="435" x2="208.5" y2="435" stroke="#333" stroke-width="0.65"/>
<text x="203.4" y="437.35" font-size="6.5" text-anchor="end" textLength="13.62" lengthAdjust="spacingAndGlyphs">1.75</text>
<line x1="206.3" y1="419.94" x2="208.5" y2="419.94" stroke="#333" stroke-width="0.65"/>
<text x="203.4" y="422.29" font-size="6.5" text-anchor="end" textLength="13.62" lengthAdjust="spacingAndGlyphs">2.00</text>
<line x1="206.3" y1="404.88" x2="208.5" y2="404.88" stroke="#333" stroke-width="0.65"/>
<text x="203.4" y="407.23" font-size="6.5" text-anchor="end" textLength="13.62" lengthAdjust="spacingAndGlyphs">2.25</text>
<line x1="206.3" y1="389.81" x2="208.5" y2="389.81" stroke="#333" stroke-width="0.65"/>
<text x="203.4" y="392.16" font-size="6.5" text-anchor="end" textLength="13.62" lengthAdjust="spacingAndGlyphs">2.50</text>
<line x1="206.3" y1="374.75" x2="208.5" y2="374.75" stroke="#333" stroke-width="0.65"/>
<text x="203.4" y="377.1" font-size="6.5" text-anchor="end" textLength="13.62" lengthAdjust="spacingAndGlyphs">2.75</text>
<line x1="206.3" y1="359.69" x2="208.5" y2="359.69" stroke="#333" stroke-width="0.65"/>
<text x="203.4" y="362.04" font-size="6.5" text-anchor="end" textLength="13.62" lengthAdjust="spacingAndGlyphs">3.00</text>
<line x1="206.3" y1="344.62" x2="208.5" y2="344.62" stroke="#333" stroke-width="0.65"/>
<text x="203.4" y="346.98" font-size="6.5" text-anchor="end" textLength="13.62" lengthAdjust="spacingAndGlyphs">3.25</text>
<line x1="206.3" y1="329.56" x2="208.5" y2="329.56" stroke="#333" stroke-width="0.65"/>
<text x="203.4" y="331.91" font-size="6.5" text-anchor="end" textLength="13.62" lengthAdjust="spacingAndGlyphs">3.50</text>
<line x1="206.3" y1="314.5" x2="208.5" y2="314.5" stroke="#333" stroke-width="0.65"/>
<text x="203.4" y="316.85" font-size="6.5" text-anchor="end" textLength="13.62" lengthAdjust="spacingAndGlyphs">3.75</text>
<line x1="214.67" y1="435.5" x2="214.67" y2="437.7" stroke="#333" stroke-width="0.65"/>
<text x="214.67" y="445.1" font-size="6.5" text-anchor="middle" textLength="14.88" lengthAdjust="spacingAndGlyphs">−3.0</text>
<line x1="235.92" y1="435.5" x2="235.92" y2="437.7" stroke="#333" stroke-width="0.65"/>
<text x="235.92" y="445.1" font-size="6.5" text-anchor="middle" textLength="14.88" lengthAdjust="spacingAndGlyphs">−2.5</text>
<line x1="257.16" y1="435.5" x2="257.16" y2="437.7" stroke="#333" stroke-width="0.65"/>
<text x="257.16" y="445.1" font-size="6.5" text-anchor="middle" textLength="14.88" lengthAdjust="spacingAndGlyphs">−2.0</text>
<line x1="278.4" y1="435.5" x2="278.4" y2="437.7" stroke="#333" stroke-width="0.65"/>
<text x="278.4" y="445.1" font-size="6.5" text-anchor="middle" textLength="14.88" lengthAdjust="spacingAndGlyphs">−1.5</text>
<line x1="299.64" y1="435.5" x2="299.64" y2="437.7" stroke="#333" stroke-width="0.65"/>
<text x="299.64" y="445.1" font-size="6.5" text-anchor="middle" textLength="14.88" lengthAdjust="spacingAndGlyphs">−1.0</text>
<line x1="320.88" y1="435.5" x2="320.88" y2="437.7" stroke="#333" stroke-width="0.65"/>
<text x="320.88" y="445.1" font-size="6.5" text-anchor="middle" textLength="14.88" lengthAdjust="spacingAndGlyphs">−0.5</text>
<line x1="342.13" y1="435.5" x2="342.13" y2="437.7" stroke="#333" stroke-width="0.65"/>
<text x="342.13" y="445.1" font-size="6.5" text-anchor="middle" textLength="9.64" lengthAdjust="spacingAndGlyphs">0.0</text>
</g>
<g>
<clipPath id="cp22"><rect x="376.5" y="310.4" width="140" height="125.1"/></clipPath>
<g clip-path="url(#cp22)">
<path d="M382.9,427.2 L510.1,427.2" fill="none" stroke="#00bfbf" stroke-width="1.1" stroke-dasharray="3.5 1.5"/>
<circle cx="382.77" cy="425.81" r="2.2" fill="#00bfbf"/>
<circle cx="412.47" cy="425.81" r="2.2" fill="#00bfbf"/>
<circle cx="425.26" cy="424.81" r="2.2" fill="#00bfbf"/>
<circle cx="454.95" cy="425.51" r="2.2" fill="#00bfbf"/>
<circle cx="467.74" cy="429.6" r="2.2" fill="#00bfbf"/>
<circle cx="497.44" cy="426.21" r="2.2" fill="#00bfbf"/>
<circle cx="510.23" cy="426.21" r="2.2" fill="#00bfbf"/>
<path d="M382.9,418.4 C387.33,417.95 401.9,417.28 409.5,415.7 C417.1,414.12 423.52,412.08 428.5,408.9 C433.48,405.72 435.98,400.92 439.4,396.6 C442.82,392.28 444.9,386.4 449,383 C453.1,379.6 459.23,378.47 464,376.2 C468.77,373.93 472.6,371.45 477.6,369.4 C482.6,367.35 488.58,364.73 494,363.9 C499.42,363.07 507.42,364.32 510.1,364.4" fill="none" stroke="#bfbf00" stroke-width="1.1" stroke-dasharray="3.5 1.5"/>
<circle cx="382.77" cy="427.5" r="2.2" fill="#bfbf00"/>
<circle cx="412.47" cy="421.71" r="2.2" fill="#bfbf00"/>
<circle cx="425.26" cy="415.13" r="2.2" fill="#bfbf00"/>
<circle cx="454.95" cy="363.92" r="2.2" fill="#bfbf00"/>
<circle cx="467.74" cy="338.96" r="2.2" fill="#bfbf00"/>
<circle cx="497.44" cy="315.91" r="2.2" fill="#bfbf00"/>
<circle cx="510.23" cy="417.22" r="2.2" fill="#bfbf00"/>
<path d="M382.9,427.2 C388.68,427.2 406.03,427.2 417.6,427.2 C419.43,425.63 421.28,425.1 423.1,422.5 C424.92,419.9 425.32,415.23 428.5,411.6 C431.68,407.97 437.2,402.73 442.2,400.7 C447.2,398.67 454.87,398.27 458.5,399.4 C462.13,400.53 460.82,406 464,407.5 C467.18,409 472.6,407.48 477.6,408.4 C482.6,409.32 489.9,411.33 494,413 C498.1,414.67 499.52,416.27 502.2,418.4 C504.88,420.53 508.78,424.57 510.1,425.8" fill="none" stroke="#008000" stroke-width="1.1" stroke-dasharray="3.5 1.5"/>
<circle cx="382.77" cy="423.71" r="2.2" fill="#008000"/>
<circle cx="412.47" cy="426.21" r="2.2" fill="#008000"/>
<circle cx="425.26" cy="384.98" r="2.2" fill="#008000"/>
<circle cx="454.95" cy="420.62" r="2.2" fill="#008000"/>
<circle cx="467.74" cy="422.01" r="2.2" fill="#008000"/>
<circle cx="497.44" cy="407.44" r="2.2" fill="#008000"/>
<circle cx="510.23" cy="413.53" r="2.2" fill="#008000"/>
<path d="M382.9,424.7 C385.97,424.33 395.97,424.22 401.3,422.5 C406.63,420.78 410.37,417.35 414.9,414.4 C419.43,411.45 424.42,406.85 428.5,404.8 C432.58,402.75 434.85,402.55 439.4,402.1 C443.95,401.65 448.52,402.33 455.8,402.1 C463.08,401.87 474.05,400.93 483.1,400.7 C492.15,400.47 505.6,400.7 510.1,400.7" fill="none" stroke="#ff0000" stroke-width="1.1" stroke-dasharray="3.5 1.5"/>
<circle cx="382.77" cy="425.41" r="2.2" fill="#ff0000"/>
<circle cx="412.47" cy="415.33" r="2.2" fill="#ff0000"/>
<circle cx="425.26" cy="400.25" r="2.2" fill="#ff0000"/>
<circle cx="454.95" cy="402.95" r="2.2" fill="#ff0000"/>
<circle cx="467.74" cy="398.86" r="2.2" fill="#ff0000"/>
<circle cx="497.44" cy="405.74" r="2.2" fill="#ff0000"/>
<circle cx="510.23" cy="408.14" r="2.2" fill="#ff0000"/>
</g>
<rect x="376.5" y="310.4" width="140" height="125.1" fill="none" stroke="#262626" stroke-width="0.82"/>
<line x1="374.3" y1="435" x2="376.5" y2="435" stroke="#333" stroke-width="0.65"/>
<text x="371.4" y="437.35" font-size="6.5" text-anchor="end" textLength="13.62" lengthAdjust="spacingAndGlyphs">0.00</text>
<line x1="374.3" y1="418.51" x2="376.5" y2="418.51" stroke="#333" stroke-width="0.65"/>
<text x="371.4" y="420.86" font-size="6.5" text-anchor="end" textLength="13.62" lengthAdjust="spacingAndGlyphs">0.25</text>
<line x1="374.3" y1="402.03" x2="376.5" y2="402.03" stroke="#333" stroke-width="0.65"/>
<text x="371.4" y="404.38" font-size="6.5" text-anchor="end" textLength="13.62" lengthAdjust="spacingAndGlyphs">0.50</text>
<line x1="374.3" y1="385.54" x2="376.5" y2="385.54" stroke="#333" stroke-width="0.65"/>
<text x="371.4" y="387.89" font-size="6.5" text-anchor="end" textLength="13.62" lengthAdjust="spacingAndGlyphs">0.75</text>
<line x1="374.3" y1="369.06" x2="376.5" y2="369.06" stroke="#333" stroke-width="0.65"/>
<text x="371.4" y="371.41" font-size="6.5" text-anchor="end" textLength="13.62" lengthAdjust="spacingAndGlyphs">1.00</text>
<line x1="374.3" y1="352.57" x2="376.5" y2="352.57" stroke="#333" stroke-width="0.65"/>
<text x="371.4" y="354.92" font-size="6.5" text-anchor="end" textLength="13.62" lengthAdjust="spacingAndGlyphs">1.25</text>
<line x1="374.3" y1="336.09" x2="376.5" y2="336.09" stroke="#333" stroke-width="0.65"/>
<text x="371.4" y="338.44" font-size="6.5" text-anchor="end" textLength="13.62" lengthAdjust="spacingAndGlyphs">1.50</text>
<line x1="374.3" y1="319.6" x2="376.5" y2="319.6" stroke="#333" stroke-width="0.65"/>
<text x="371.4" y="321.95" font-size="6.5" text-anchor="end" textLength="13.62" lengthAdjust="spacingAndGlyphs">1.75</text>
<line x1="382.77" y1="435.5" x2="382.77" y2="437.7" stroke="#333" stroke-width="0.65"/>
<text x="382.77" y="445.1" font-size="6.5" text-anchor="middle" textLength="14.88" lengthAdjust="spacingAndGlyphs">−3.0</text>
<line x1="404.02" y1="435.5" x2="404.02" y2="437.7" stroke="#333" stroke-width="0.65"/>
<text x="404.02" y="445.1" font-size="6.5" text-anchor="middle" textLength="14.88" lengthAdjust="spacingAndGlyphs">−2.5</text>
<line x1="425.26" y1="435.5" x2="425.26" y2="437.7" stroke="#333" stroke-width="0.65"/>
<text x="425.26" y="445.1" font-size="6.5" text-anchor="middle" textLength="14.88" lengthAdjust="spacingAndGlyphs">−2.0</text>
<line x1="446.5" y1="435.5" x2="446.5" y2="437.7" stroke="#333" stroke-width="0.65"/>
<text x="446.5" y="445.1" font-size="6.5" text-anchor="middle" textLength="14.88" lengthAdjust="spacingAndGlyphs">−1.5</text>
<line x1="467.74" y1="435.5" x2="467.74" y2="437.7" stroke="#333" stroke-width="0.65"/>
<text x="467.74" y="445.1" font-size="6.5" text-anchor="middle" textLength="14.88" lengthAdjust="spacingAndGlyphs">−1.0</text>
<line x1="488.98" y1="435.5" x2="488.98" y2="437.7" stroke="#333" stroke-width="0.65"/>
<text x="488.98" y="445.1" font-size="6.5" text-anchor="middle" textLength="14.88" lengthAdjust="spacingAndGlyphs">−0.5</text>
<line x1="510.23" y1="435.5" x2="510.23" y2="437.7" stroke="#333" stroke-width="0.65"/>
<text x="510.23" y="445.1" font-size="6.5" text-anchor="middle" textLength="9.64" lengthAdjust="spacingAndGlyphs">0.0</text>
</g>
<g>
<clipPath id="cp23"><rect x="544.5" y="310.4" width="140" height="125.1"/></clipPath>
<g clip-path="url(#cp23)">
<path d="M551,427 L678.1,427" fill="none" stroke="#00bfbf" stroke-width="1.1" stroke-dasharray="3.5 1.5"/>
<circle cx="550.87" cy="426.77" r="2.2" fill="#00bfbf"/>
<circle cx="580.57" cy="427.92" r="2.2" fill="#00bfbf"/>
<circle cx="593.36" cy="428.66" r="2.2" fill="#00bfbf"/>
<circle cx="623.05" cy="426.56" r="2.2" fill="#00bfbf"/>
<circle cx="635.84" cy="429.71" r="2.2" fill="#00bfbf"/>
<circle cx="665.54" cy="425.82" r="2.2" fill="#00bfbf"/>
<circle cx="678.33" cy="422.24" r="2.2" fill="#00bfbf"/>
<path d="M551,402.8 C554.03,402.53 563.88,402.02 569.2,401.2 C574.52,400.38 578.35,399.58 582.9,397.9 C587.45,396.22 592.42,394.73 596.5,391.1 C600.58,387.47 604.23,381.55 607.4,376.1 C610.57,370.65 612.78,362.27 615.5,358.4 C618.22,354.53 620.07,355.17 623.7,352.9 C627.33,350.63 632.75,347.07 637.3,344.8 C641.85,342.53 646.45,340.75 651,339.3 C655.55,337.85 660.08,336.63 664.6,336.1 C669.12,335.57 675.85,336.1 678.1,336.1" fill="none" stroke="#bfbf00" stroke-width="1.1" stroke-dasharray="3.5 1.5"/>
<circle cx="550.87" cy="424.35" r="2.2" fill="#bfbf00"/>
<circle cx="580.57" cy="414.77" r="2.2" fill="#bfbf00"/>
<circle cx="593.36" cy="402.57" r="2.2" fill="#bfbf00"/>
<circle cx="623.05" cy="334.07" r="2.2" fill="#bfbf00"/>
<circle cx="635.84" cy="315.45" r="2.2" fill="#bfbf00"/>
<circle cx="665.54" cy="323.34" r="2.2" fill="#bfbf00"/>
<circle cx="678.33" cy="389.94" r="2.2" fill="#bfbf00"/>
<path d="M551,427.3 C556.77,427.3 574.07,427.3 585.6,427.3 C587.4,425.67 589.42,426.4 591,422.4 C592.58,418.4 592.37,408.52 595.1,403.3 C597.83,398.08 602.63,393.55 607.4,391.1 C612.17,388.65 620.3,388.92 623.7,388.6 C627.1,388.28 626.2,387.75 627.8,389.2 C629.4,390.65 629.43,395.77 633.3,397.3 C637.17,398.83 645.78,397.48 651,398.4 C656.22,399.32 660.97,400.83 664.6,402.8 C668.23,404.77 670.55,407.62 672.8,410.2 C675.05,412.78 677.22,416.95 678.1,418.3" fill="none" stroke="#008000" stroke-width="1.1" stroke-dasharray="3.5 1.5"/>
<circle cx="550.87" cy="423.61" r="2.2" fill="#008000"/>
<circle cx="580.57" cy="424.03" r="2.2" fill="#008000"/>
<circle cx="593.36" cy="370.37" r="2.2" fill="#008000"/>
<circle cx="623.05" cy="409.3" r="2.2" fill="#008000"/>
<circle cx="635.84" cy="413.61" r="2.2" fill="#008000"/>
<circle cx="665.54" cy="416.77" r="2.2" fill="#008000"/>
<circle cx="678.33" cy="419.09" r="2.2" fill="#008000"/>
<path d="M551,424.6 C554.03,424.78 563.43,425.7 569.2,425.7 C574.97,425.7 581.05,425.38 585.6,424.6 C590.15,423.82 590.15,421.68 596.5,421 C602.85,420.32 610.1,420.72 623.7,420.5 C637.3,420.28 669.03,419.83 678.1,419.7" fill="none" stroke="#ff0000" stroke-width="1.1" stroke-dasharray="3.5 1.5"/>
<circle cx="550.87" cy="421.51" r="2.2" fill="#ff0000"/>
<circle cx="580.57" cy="420.45" r="2.2" fill="#ff0000"/>
<circle cx="593.36" cy="420.45" r="2.2" fill="#ff0000"/>
<circle cx="623.05" cy="424.35" r="2.2" fill="#ff0000"/>
<circle cx="635.84" cy="427.92" r="2.2" fill="#ff0000"/>
<circle cx="665.54" cy="427.19" r="2.2" fill="#ff0000"/>
<circle cx="678.33" cy="413.61" r="2.2" fill="#ff0000"/>
</g>
<rect x="544.5" y="310.4" width="140" height="125.1" fill="none" stroke="#262626" stroke-width="0.82"/>
<line x1="542.3" y1="421.4" x2="544.5" y2="421.4" stroke="#333" stroke-width="0.65"/>
<text x="539.4" y="423.75" font-size="6.5" text-anchor="end" textLength="9.64" lengthAdjust="spacingAndGlyphs">0.5</text>
<line x1="542.3" y1="397.7" x2="544.5" y2="397.7" stroke="#333" stroke-width="0.65"/>
<text x="539.4" y="400.05" font-size="6.5" text-anchor="end" textLength="9.64" lengthAdjust="spacingAndGlyphs">1.0</text>
<line x1="542.3" y1="374" x2="544.5" y2="374" stroke="#333" stroke-width="0.65"/>
<text x="539.4" y="376.35" font-size="6.5" text-anchor="end" textLength="9.64" lengthAdjust="spacingAndGlyphs">1.5</text>
<line x1="542.3" y1="350.3" x2="544.5" y2="350.3" stroke="#333" stroke-width="0.65"/>
<text x="539.4" y="352.65" font-size="6.5" text-anchor="end" textLength="9.64" lengthAdjust="spacingAndGlyphs">2.0</text>
<line x1="542.3" y1="326.6" x2="544.5" y2="326.6" stroke="#333" stroke-width="0.65"/>
<text x="539.4" y="328.95" font-size="6.5" text-anchor="end" textLength="9.64" lengthAdjust="spacingAndGlyphs">2.5</text>
<line x1="550.87" y1="435.5" x2="550.87" y2="437.7" stroke="#333" stroke-width="0.65"/>
<text x="550.87" y="445.1" font-size="6.5" text-anchor="middle" textLength="14.88" lengthAdjust="spacingAndGlyphs">−3.0</text>
<line x1="572.12" y1="435.5" x2="572.12" y2="437.7" stroke="#333" stroke-width="0.65"/>
<text x="572.12" y="445.1" font-size="6.5" text-anchor="middle" textLength="14.88" lengthAdjust="spacingAndGlyphs">−2.5</text>
<line x1="593.36" y1="435.5" x2="593.36" y2="437.7" stroke="#333" stroke-width="0.65"/>
<text x="593.36" y="445.1" font-size="6.5" text-anchor="middle" textLength="14.88" lengthAdjust="spacingAndGlyphs">−2.0</text>
<line x1="614.6" y1="435.5" x2="614.6" y2="437.7" stroke="#333" stroke-width="0.65"/>
<text x="614.6" y="445.1" font-size="6.5" text-anchor="middle" textLength="14.88" lengthAdjust="spacingAndGlyphs">−1.5</text>
<line x1="635.84" y1="435.5" x2="635.84" y2="437.7" stroke="#333" stroke-width="0.65"/>
<text x="635.84" y="445.1" font-size="6.5" text-anchor="middle" textLength="14.88" lengthAdjust="spacingAndGlyphs">−1.0</text>
<line x1="657.08" y1="435.5" x2="657.08" y2="437.7" stroke="#333" stroke-width="0.65"/>
<text x="657.08" y="445.1" font-size="6.5" text-anchor="middle" textLength="14.88" lengthAdjust="spacingAndGlyphs">−0.5</text>
<line x1="678.33" y1="435.5" x2="678.33" y2="437.7" stroke="#333" stroke-width="0.65"/>
<text x="678.33" y="445.1" font-size="6.5" text-anchor="middle" textLength="9.64" lengthAdjust="spacingAndGlyphs">0.0</text>
</g>
<text x="5.6" y="310.25" font-size="9.2" font-weight="bold" textLength="15.2" lengthAdjust="spacingAndGlyphs">(C)</text>
<text x="5.8" y="390.8" font-size="7.8" font-weight="bold" textLength="37.27" lengthAdjust="spacingAndGlyphs" transform="rotate(-90 5.8 390.8)">CPA-MLP</text>
<text class="yl" x="17.6" y="389.9" font-size="6.5" textLength="34.23" lengthAdjust="spacingAndGlyphs" transform="rotate(-90 17.6 389.9)">Expression</text>
<rect x="198.3" y="465.3" width="324" height="10.9" rx="1.2" fill="#fff" fill-opacity="0.8" stroke="#d0d0d0" stroke-width="0.6"/>
<line x1="200.3" y1="470.5" x2="213.9" y2="470.5" stroke="#00bfbf" stroke-width="1.1"/>
<text x="218.8" y="473" font-size="6.5" text-anchor="start" textLength="11.95" lengthAdjust="spacingAndGlyphs">Dex</text>
<line x1="243.9" y1="470.5" x2="257.5" y2="470.5" stroke="#bfbf00" stroke-width="1.1"/>
<text x="262.4" y="473" font-size="6.5" text-anchor="start" textLength="18.22" lengthAdjust="spacingAndGlyphs">Nutlin</text>
<line x1="293.5" y1="470.5" x2="307.1" y2="470.5" stroke="#008000" stroke-width="1.1"/>
<text x="312" y="473" font-size="6.5" text-anchor="start" textLength="13.35" lengthAdjust="spacingAndGlyphs">BMS</text>
<line x1="338.3" y1="470.5" x2="351.9" y2="470.5" stroke="#ff0000" stroke-width="1.1"/>
<text x="356.8" y="473" font-size="6.5" text-anchor="start" textLength="17.03" lengthAdjust="spacingAndGlyphs">SAHA</text>
<line x1="386.9" y1="470.5" x2="400.5" y2="470.5" stroke="#000" stroke-width="0.8" stroke-dasharray="2.3 1.1"/>
<text x="405.4" y="473" font-size="6.5" text-anchor="start" textLength="11.71" lengthAdjust="spacingAndGlyphs">CPA</text>
<line x1="430" y1="470.5" x2="443.6" y2="470.5" stroke="#000" stroke-width="1.1"/>
<circle cx="436.8" cy="470.5" r="2.1" fill="#000"/>
<text x="448.5" y="473" font-size="6.5" text-anchor="start" textLength="12.01" lengthAdjust="spacingAndGlyphs">Test</text>
<line x1="473.3" y1="470.5" x2="486.9" y2="470.5" stroke="#000" stroke-width="0.8" stroke-dasharray="4.3 1 0.7 0.9"/>
<text x="491.8" y="473" font-size="6.5" text-anchor="start" textLength="27.45" lengthAdjust="spacingAndGlyphs">GPerturb</text>
</svg>
</body></html>
